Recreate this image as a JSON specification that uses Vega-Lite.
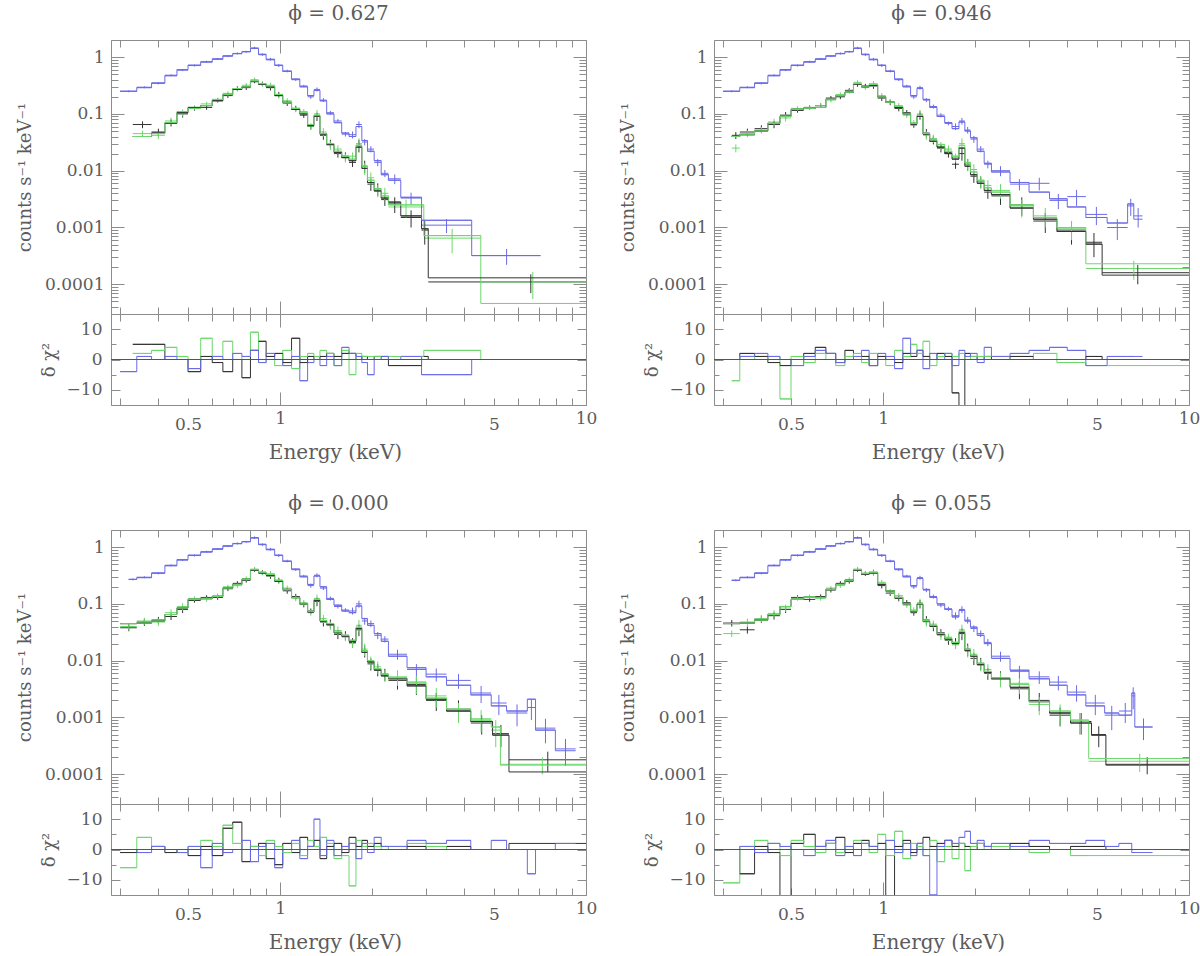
{
"$schema": "https://vega.github.io/schema/vega-lite/v6.json",
"padding": {"left": 16, "top": 4, "right": 5, "bottom": 5},
"background": "white",
"data": {"values": [
{"p":0,"s":"k","l":0.33,"h":0.38,"e":0.355,"m":0.04,"y":0.065,"d":0.056,"u":0.074,"r":5},
{"p":0,"s":"k","l":0.38,"h":0.42,"e":0.4,"m":0.046,"y":0.048,"d":0.041,"u":0.055,"r":5},
{"p":0,"s":"k","l":0.42,"h":0.46,"e":0.44,"m":0.068,"y":0.07,"d":0.06,"u":0.08,"r":0},
{"p":0,"s":"k","l":0.46,"h":0.5,"e":0.48,"m":0.105,"y":0.1,"d":0.086,"u":0.114,"r":0},
{"p":0,"s":"k","l":0.5,"h":0.55,"e":0.525,"m":0.13,"y":0.125,"d":0.114,"u":0.136,"r":-4},
{"p":0,"s":"k","l":0.55,"h":0.6,"e":0.575,"m":0.14,"y":0.13,"d":0.118,"u":0.142,"r":1},
{"p":0,"s":"k","l":0.6,"h":0.65,"e":0.625,"m":0.17,"y":0.175,"d":0.159,"u":0.191,"r":-1},
{"p":0,"s":"k","l":0.65,"h":0.7,"e":0.675,"m":0.22,"y":0.21,"d":0.191,"u":0.229,"r":-4},
{"p":0,"s":"k","l":0.7,"h":0.75,"e":0.725,"m":0.27,"y":0.28,"d":0.255,"u":0.305,"r":0},
{"p":0,"s":"k","l":0.75,"h":0.8,"e":0.775,"m":0.3,"y":0.29,"d":0.264,"u":0.316,"r":-6},
{"p":0,"s":"k","l":0.8,"h":0.85,"e":0.825,"m":0.37,"y":0.38,"d":0.346,"u":0.414,"r":3},
{"p":0,"s":"k","l":0.85,"h":0.9,"e":0.875,"m":0.33,"y":0.34,"d":0.31,"u":0.37,"r":6},
{"p":0,"s":"k","l":0.9,"h":0.96,"e":0.93,"m":0.3,"y":0.29,"d":0.258,"u":0.322,"r":1},
{"p":0,"s":"k","l":0.96,"h":1.02,"e":0.99,"m":0.21,"y":0.22,"d":0.196,"u":0.244,"r":2},
{"p":0,"s":"k","l":1.02,"h":1.09,"e":1.055,"m":0.16,"y":0.155,"d":0.138,"u":0.172,"r":-1},
{"p":0,"s":"k","l":1.09,"h":1.16,"e":1.125,"m":0.12,"y":0.125,"d":0.111,"u":0.139,"r":7},
{"p":0,"s":"k","l":1.16,"h":1.23,"e":1.195,"m":0.1,"y":0.095,"d":0.085,"u":0.105,"r":-1},
{"p":0,"s":"k","l":1.23,"h":1.29,"e":1.26,"m":0.062,"y":0.06,"d":0.053,"u":0.067,"r":1},
{"p":0,"s":"k","l":1.29,"h":1.35,"e":1.32,"m":0.092,"y":0.09,"d":0.075,"u":0.105,"r":0},
{"p":0,"s":"k","l":1.35,"h":1.42,"e":1.385,"m":0.044,"y":0.042,"d":0.035,"u":0.049,"r":1},
{"p":0,"s":"k","l":1.42,"h":1.5,"e":1.46,"m":0.029,"y":0.03,"d":0.025,"u":0.035,"r":2},
{"p":0,"s":"k","l":1.5,"h":1.59,"e":1.545,"m":0.021,"y":0.02,"d":0.017,"u":0.023,"r":1},
{"p":0,"s":"k","l":1.59,"h":1.68,"e":1.635,"m":0.017,"y":0.018,"d":0.015,"u":0.021,"r":2},
{"p":0,"s":"k","l":1.68,"h":1.77,"e":1.725,"m":0.015,"y":0.014,"d":0.0116,"u":0.0164,"r":2},
{"p":0,"s":"k","l":1.77,"h":1.85,"e":1.81,"m":0.026,"y":0.028,"d":0.021,"u":0.035,"r":0},
{"p":0,"s":"k","l":1.85,"h":1.93,"e":1.89,"m":0.011,"y":0.012,"d":0.009,"u":0.015,"r":1},
{"p":0,"s":"k","l":1.93,"h":2.03,"e":1.98,"m":0.0062,"y":0.0058,"d":0.0044,"u":0.0072,"r":0},
{"p":0,"s":"k","l":2.03,"h":2.14,"e":2.085,"m":0.0044,"y":0.0048,"d":0.0036,"u":0.006,"r":1},
{"p":0,"s":"k","l":2.14,"h":2.26,"e":2.2,"m":0.0033,"y":0.0031,"d":0.0024,"u":0.0038,"r":1},
{"p":0,"s":"k","l":2.26,"h":2.48,"e":2.37,"m":0.0028,"y":0.0026,"d":0.0018,"u":0.0034,"r":-2},
{"p":0,"s":"k","l":2.48,"h":2.9,"e":2.68,"m":0.0016,"y":0.0015,"d":0.001,"u":0.002,"r":-2},
{"p":0,"s":"k","l":2.9,"h":3.05,"e":2.97,"m":0.00095,"y":0.0009,"d":0.0005,"u":0.0013,"r":1},
{"p":0,"s":"k","l":3.05,"h":10,"e":6.6,"m":0.00013,"y":0.00011,"d":0.00007,"u":0.00015,"r":0},
{"p":0,"s":"g","l":0.33,"h":0.38,"e":0.355,"m":0.04,"y":0.045,"d":0.039,"u":0.051,"r":2},
{"p":0,"s":"g","l":0.38,"h":0.42,"e":0.4,"m":0.045,"y":0.042,"d":0.036,"u":0.048,"r":3},
{"p":0,"s":"g","l":0.42,"h":0.46,"e":0.44,"m":0.07,"y":0.075,"d":0.065,"u":0.086,"r":4},
{"p":0,"s":"g","l":0.46,"h":0.5,"e":0.48,"m":0.11,"y":0.105,"d":0.09,"u":0.12,"r":1},
{"p":0,"s":"g","l":0.5,"h":0.55,"e":0.525,"m":0.125,"y":0.13,"d":0.118,"u":0.142,"r":0},
{"p":0,"s":"g","l":0.55,"h":0.6,"e":0.575,"m":0.14,"y":0.15,"d":0.137,"u":0.164,"r":7},
{"p":0,"s":"g","l":0.6,"h":0.65,"e":0.625,"m":0.18,"y":0.175,"d":0.159,"u":0.191,"r":1},
{"p":0,"s":"g","l":0.65,"h":0.7,"e":0.675,"m":0.22,"y":0.23,"d":0.209,"u":0.251,"r":6},
{"p":0,"s":"g","l":0.7,"h":0.75,"e":0.725,"m":0.28,"y":0.27,"d":0.246,"u":0.294,"r":0},
{"p":0,"s":"g","l":0.75,"h":0.8,"e":0.775,"m":0.3,"y":0.32,"d":0.291,"u":0.349,"r":1},
{"p":0,"s":"g","l":0.8,"h":0.85,"e":0.825,"m":0.38,"y":0.4,"d":0.364,"u":0.436,"r":9},
{"p":0,"s":"g","l":0.85,"h":0.9,"e":0.875,"m":0.34,"y":0.33,"d":0.3,"u":0.36,"r":-1},
{"p":0,"s":"g","l":0.9,"h":0.96,"e":0.93,"m":0.31,"y":0.32,"d":0.285,"u":0.355,"r":0},
{"p":0,"s":"g","l":0.96,"h":1.02,"e":0.99,"m":0.22,"y":0.21,"d":0.187,"u":0.233,"r":-2},
{"p":0,"s":"g","l":1.02,"h":1.09,"e":1.055,"m":0.16,"y":0.17,"d":0.151,"u":0.189,"r":3},
{"p":0,"s":"g","l":1.09,"h":1.16,"e":1.125,"m":0.125,"y":0.12,"d":0.107,"u":0.133,"r":-3},
{"p":0,"s":"g","l":1.16,"h":1.23,"e":1.195,"m":0.105,"y":0.11,"d":0.098,"u":0.122,"r":1},
{"p":0,"s":"g","l":1.23,"h":1.29,"e":1.26,"m":0.065,"y":0.06,"d":0.053,"u":0.067,"r":2},
{"p":0,"s":"g","l":1.29,"h":1.35,"e":1.32,"m":0.095,"y":0.1,"d":0.083,"u":0.117,"r":1},
{"p":0,"s":"g","l":1.35,"h":1.42,"e":1.385,"m":0.045,"y":0.048,"d":0.04,"u":0.056,"r":3},
{"p":0,"s":"g","l":1.42,"h":1.5,"e":1.46,"m":0.03,"y":0.028,"d":0.023,"u":0.033,"r":2},
{"p":0,"s":"g","l":1.5,"h":1.59,"e":1.545,"m":0.022,"y":0.024,"d":0.02,"u":0.028,"r":-2},
{"p":0,"s":"g","l":1.59,"h":1.68,"e":1.635,"m":0.018,"y":0.017,"d":0.014,"u":0.02,"r":3},
{"p":0,"s":"g","l":1.68,"h":1.77,"e":1.725,"m":0.016,"y":0.018,"d":0.015,"u":0.021,"r":-5},
{"p":0,"s":"g","l":1.77,"h":1.85,"e":1.81,"m":0.028,"y":0.03,"d":0.023,"u":0.037,"r":2},
{"p":0,"s":"g","l":1.85,"h":1.93,"e":1.89,"m":0.012,"y":0.011,"d":0.0084,"u":0.0136,"r":1},
{"p":0,"s":"g","l":1.93,"h":2.03,"e":1.98,"m":0.0068,"y":0.0075,"d":0.0057,"u":0.0093,"r":1},
{"p":0,"s":"g","l":2.03,"h":2.14,"e":2.085,"m":0.0048,"y":0.0045,"d":0.0034,"u":0.0056,"r":1},
{"p":0,"s":"g","l":2.14,"h":2.26,"e":2.2,"m":0.0036,"y":0.004,"d":0.003,"u":0.005,"r":0},
{"p":0,"s":"g","l":2.26,"h":2.95,"e":2.58,"m":0.0025,"y":0.0023,"d":0.0015,"u":0.0031,"r":1},
{"p":0,"s":"g","l":2.95,"h":4.53,"e":3.65,"m":0.00072,"y":0.00065,"d":0.00035,"u":0.00095,"r":3},
{"p":0,"s":"g","l":4.53,"h":10,"e":6.7,"m":0.000046,"y":0.00011,"d":0.000055,"u":0.000165,"r":0},
{"p":0,"s":"b","l":0.3,"h":0.34,"e":0.32,"m":0.25,"y":0.25,"d":0.24,"u":0.26,"r":-4},
{"p":0,"s":"b","l":0.34,"h":0.38,"e":0.36,"m":0.29,"y":0.295,"d":0.283,"u":0.307,"r":1},
{"p":0,"s":"b","l":0.38,"h":0.42,"e":0.4,"m":0.35,"y":0.345,"d":0.331,"u":0.359,"r":0},
{"p":0,"s":"b","l":0.42,"h":0.46,"e":0.44,"m":0.47,"y":0.48,"d":0.461,"u":0.499,"r":1},
{"p":0,"s":"b","l":0.46,"h":0.5,"e":0.48,"m":0.6,"y":0.59,"d":0.566,"u":0.614,"r":0},
{"p":0,"s":"b","l":0.5,"h":0.55,"e":0.525,"m":0.72,"y":0.71,"d":0.682,"u":0.738,"r":-3},
{"p":0,"s":"b","l":0.55,"h":0.6,"e":0.575,"m":0.82,"y":0.83,"d":0.797,"u":0.863,"r":0},
{"p":0,"s":"b","l":0.6,"h":0.65,"e":0.625,"m":0.92,"y":0.93,"d":0.893,"u":0.967,"r":1},
{"p":0,"s":"b","l":0.65,"h":0.7,"e":0.675,"m":1.05,"y":1.04,"d":1.0,"u":1.08,"r":0},
{"p":0,"s":"b","l":0.7,"h":0.75,"e":0.725,"m":1.15,"y":1.16,"d":1.11,"u":1.21,"r":2},
{"p":0,"s":"b","l":0.75,"h":0.8,"e":0.775,"m":1.25,"y":1.24,"d":1.19,"u":1.29,"r":1},
{"p":0,"s":"b","l":0.8,"h":0.85,"e":0.825,"m":1.42,"y":1.45,"d":1.38,"u":1.52,"r":3},
{"p":0,"s":"b","l":0.85,"h":0.9,"e":0.875,"m":1.12,"y":1.1,"d":1.05,"u":1.16,"r":-1},
{"p":0,"s":"b","l":0.9,"h":0.96,"e":0.93,"m":0.9,"y":0.92,"d":0.87,"u":0.97,"r":2},
{"p":0,"s":"b","l":0.96,"h":1.02,"e":0.99,"m":0.72,"y":0.71,"d":0.67,"u":0.75,"r":0},
{"p":0,"s":"b","l":1.02,"h":1.09,"e":1.055,"m":0.56,"y":0.57,"d":0.54,"u":0.6,"r":-2},
{"p":0,"s":"b","l":1.09,"h":1.16,"e":1.125,"m":0.41,"y":0.4,"d":0.38,"u":0.42,"r":1},
{"p":0,"s":"b","l":1.16,"h":1.23,"e":1.195,"m":0.3,"y":0.31,"d":0.295,"u":0.325,"r":-7},
{"p":0,"s":"b","l":1.23,"h":1.29,"e":1.26,"m":0.21,"y":0.2,"d":0.184,"u":0.216,"r":-1},
{"p":0,"s":"b","l":1.29,"h":1.35,"e":1.32,"m":0.26,"y":0.27,"d":0.248,"u":0.292,"r":0},
{"p":0,"s":"b","l":1.35,"h":1.42,"e":1.385,"m":0.17,"y":0.175,"d":0.161,"u":0.189,"r":-2},
{"p":0,"s":"b","l":1.42,"h":1.5,"e":1.46,"m":0.1,"y":0.105,"d":0.097,"u":0.113,"r":1},
{"p":0,"s":"b","l":1.5,"h":1.59,"e":1.545,"m":0.07,"y":0.075,"d":0.069,"u":0.081,"r":-2},
{"p":0,"s":"b","l":1.59,"h":1.68,"e":1.635,"m":0.046,"y":0.044,"d":0.04,"u":0.048,"r":4},
{"p":0,"s":"b","l":1.68,"h":1.77,"e":1.725,"m":0.04,"y":0.043,"d":0.037,"u":0.049,"r":2},
{"p":0,"s":"b","l":1.77,"h":1.85,"e":1.81,"m":0.06,"y":0.065,"d":0.056,"u":0.074,"r":1},
{"p":0,"s":"b","l":1.85,"h":1.93,"e":1.89,"m":0.034,"y":0.032,"d":0.028,"u":0.036,"r":-1},
{"p":0,"s":"b","l":1.93,"h":2.03,"e":1.98,"m":0.022,"y":0.024,"d":0.021,"u":0.027,"r":-5},
{"p":0,"s":"b","l":2.03,"h":2.14,"e":2.085,"m":0.015,"y":0.014,"d":0.012,"u":0.016,"r":0},
{"p":0,"s":"b","l":2.14,"h":2.26,"e":2.2,"m":0.0085,"y":0.009,"d":0.0077,"u":0.0103,"r":1},
{"p":0,"s":"b","l":2.26,"h":2.48,"e":2.37,"m":0.0068,"y":0.0072,"d":0.0058,"u":0.0086,"r":0},
{"p":0,"s":"b","l":2.48,"h":2.9,"e":2.68,"m":0.0034,"y":0.0033,"d":0.0025,"u":0.0041,"r":1},
{"p":0,"s":"b","l":2.9,"h":4.23,"e":3.5,"m":0.00134,"y":0.0011,"d":0.0008,"u":0.0014,"r":-5},
{"p":0,"s":"b","l":4.23,"h":7.1,"e":5.5,"m":0.00032,"y":0.00032,"d":0.00022,"u":0.00042,"r":0},

{"p":1,"s":"k","l":0.32,"h":0.34,"e":0.33,"m":0.04,"y":0.042,"d":0.036,"u":0.048,"r":0},
{"p":1,"s":"k","l":0.34,"h":0.38,"e":0.36,"m":0.043,"y":0.048,"d":0.041,"u":0.055,"r":2},
{"p":1,"s":"k","l":0.38,"h":0.42,"e":0.4,"m":0.05,"y":0.055,"d":0.047,"u":0.063,"r":1},
{"p":1,"s":"k","l":0.42,"h":0.46,"e":0.44,"m":0.068,"y":0.065,"d":0.056,"u":0.074,"r":-1},
{"p":1,"s":"k","l":0.46,"h":0.5,"e":0.48,"m":0.09,"y":0.095,"d":0.082,"u":0.108,"r":-2},
{"p":1,"s":"k","l":0.5,"h":0.55,"e":0.525,"m":0.12,"y":0.115,"d":0.105,"u":0.125,"r":0},
{"p":1,"s":"k","l":0.55,"h":0.6,"e":0.575,"m":0.125,"y":0.13,"d":0.118,"u":0.142,"r":2},
{"p":1,"s":"k","l":0.6,"h":0.65,"e":0.625,"m":0.13,"y":0.14,"d":0.127,"u":0.153,"r":4},
{"p":1,"s":"k","l":0.65,"h":0.7,"e":0.675,"m":0.18,"y":0.19,"d":0.173,"u":0.207,"r":2},
{"p":1,"s":"k","l":0.7,"h":0.75,"e":0.725,"m":0.21,"y":0.2,"d":0.182,"u":0.218,"r":-1},
{"p":1,"s":"k","l":0.75,"h":0.8,"e":0.775,"m":0.24,"y":0.26,"d":0.237,"u":0.283,"r":3},
{"p":1,"s":"k","l":0.8,"h":0.85,"e":0.825,"m":0.33,"y":0.33,"d":0.3,"u":0.36,"r":0},
{"p":1,"s":"k","l":0.85,"h":0.9,"e":0.875,"m":0.3,"y":0.31,"d":0.282,"u":0.338,"r":1},
{"p":1,"s":"k","l":0.9,"h":0.96,"e":0.93,"m":0.32,"y":0.31,"d":0.276,"u":0.344,"r":-2},
{"p":1,"s":"k","l":0.96,"h":1.02,"e":0.99,"m":0.2,"y":0.19,"d":0.169,"u":0.211,"r":1},
{"p":1,"s":"k","l":1.02,"h":1.09,"e":1.055,"m":0.16,"y":0.16,"d":0.142,"u":0.178,"r":0},
{"p":1,"s":"k","l":1.09,"h":1.16,"e":1.125,"m":0.13,"y":0.125,"d":0.111,"u":0.139,"r":-1},
{"p":1,"s":"k","l":1.16,"h":1.23,"e":1.195,"m":0.1,"y":0.105,"d":0.093,"u":0.117,"r":2},
{"p":1,"s":"k","l":1.23,"h":1.29,"e":1.26,"m":0.066,"y":0.064,"d":0.057,"u":0.071,"r":1},
{"p":1,"s":"k","l":1.29,"h":1.35,"e":1.32,"m":0.09,"y":0.095,"d":0.079,"u":0.111,"r":3},
{"p":1,"s":"k","l":1.35,"h":1.42,"e":1.385,"m":0.044,"y":0.046,"d":0.038,"u":0.054,"r":1},
{"p":1,"s":"k","l":1.42,"h":1.5,"e":1.46,"m":0.033,"y":0.035,"d":0.029,"u":0.041,"r":0},
{"p":1,"s":"k","l":1.5,"h":1.59,"e":1.545,"m":0.026,"y":0.025,"d":0.021,"u":0.029,"r":2},
{"p":1,"s":"k","l":1.59,"h":1.68,"e":1.635,"m":0.02,"y":0.021,"d":0.017,"u":0.025,"r":1},
{"p":1,"s":"k","l":1.68,"h":1.77,"e":1.725,"m":0.016,"y":0.013,"d":0.0108,"u":0.0152,"r":-11},
{"p":1,"s":"k","l":1.77,"h":1.85,"e":1.81,"m":0.025,"y":0.02,"d":0.015,"u":0.025,"r":-20},
{"p":1,"s":"k","l":1.85,"h":1.93,"e":1.89,"m":0.012,"y":0.013,"d":0.0099,"u":0.0161,"r":2},
{"p":1,"s":"k","l":1.93,"h":2.03,"e":1.98,"m":0.0085,"y":0.008,"d":0.0061,"u":0.0099,"r":1},
{"p":1,"s":"k","l":2.03,"h":2.14,"e":2.085,"m":0.006,"y":0.0064,"d":0.0049,"u":0.0079,"r":0},
{"p":1,"s":"k","l":2.14,"h":2.26,"e":2.2,"m":0.0045,"y":0.0042,"d":0.0032,"u":0.0052,"r":1},
{"p":1,"s":"k","l":2.26,"h":2.6,"e":2.42,"m":0.0038,"y":0.0036,"d":0.0025,"u":0.0047,"r":0},
{"p":1,"s":"k","l":2.6,"h":3.1,"e":2.84,"m":0.0022,"y":0.0025,"d":0.0016,"u":0.0034,"r":1},
{"p":1,"s":"k","l":3.1,"h":3.7,"e":3.39,"m":0.0014,"y":0.0013,"d":0.0008,"u":0.0018,"r":0},
{"p":1,"s":"k","l":3.7,"h":4.6,"e":4.13,"m":0.00085,"y":0.0009,"d":0.0005,"u":0.0013,"r":0},
{"p":1,"s":"k","l":4.6,"h":5.2,"e":4.89,"m":0.00051,"y":0.00055,"d":0.0003,"u":0.0008,"r":1},
{"p":1,"s":"k","l":5.2,"h":10,"e":6.8,"m":0.000145,"y":0.00016,"d":0.0001,"u":0.00022,"r":0},
{"p":1,"s":"g","l":0.32,"h":0.34,"e":0.33,"m":0.04,"y":0.025,"d":0.021,"u":0.029,"r":-7},
{"p":1,"s":"g","l":0.34,"h":0.38,"e":0.36,"m":0.043,"y":0.045,"d":0.039,"u":0.051,"r":1},
{"p":1,"s":"g","l":0.38,"h":0.42,"e":0.4,"m":0.05,"y":0.052,"d":0.045,"u":0.059,"r":0},
{"p":1,"s":"g","l":0.42,"h":0.46,"e":0.44,"m":0.068,"y":0.072,"d":0.062,"u":0.082,"r":1},
{"p":1,"s":"g","l":0.46,"h":0.5,"e":0.48,"m":0.09,"y":0.085,"d":0.073,"u":0.097,"r":-13},
{"p":1,"s":"g","l":0.5,"h":0.55,"e":0.525,"m":0.12,"y":0.125,"d":0.114,"u":0.136,"r":1},
{"p":1,"s":"g","l":0.55,"h":0.6,"e":0.575,"m":0.125,"y":0.13,"d":0.118,"u":0.142,"r":-1},
{"p":1,"s":"g","l":0.6,"h":0.65,"e":0.625,"m":0.13,"y":0.14,"d":0.127,"u":0.153,"r":2},
{"p":1,"s":"g","l":0.65,"h":0.7,"e":0.675,"m":0.18,"y":0.175,"d":0.159,"u":0.191,"r":0},
{"p":1,"s":"g","l":0.7,"h":0.75,"e":0.725,"m":0.21,"y":0.22,"d":0.2,"u":0.24,"r":-2},
{"p":1,"s":"g","l":0.75,"h":0.8,"e":0.775,"m":0.24,"y":0.25,"d":0.228,"u":0.272,"r":1},
{"p":1,"s":"g","l":0.8,"h":0.85,"e":0.825,"m":0.34,"y":0.36,"d":0.328,"u":0.392,"r":2},
{"p":1,"s":"g","l":0.85,"h":0.9,"e":0.875,"m":0.3,"y":0.29,"d":0.264,"u":0.316,"r":-1},
{"p":1,"s":"g","l":0.9,"h":0.96,"e":0.93,"m":0.33,"y":0.34,"d":0.3,"u":0.38,"r":2},
{"p":1,"s":"g","l":0.96,"h":1.02,"e":0.99,"m":0.2,"y":0.21,"d":0.187,"u":0.233,"r":0},
{"p":1,"s":"g","l":1.02,"h":1.09,"e":1.055,"m":0.16,"y":0.165,"d":0.147,"u":0.183,"r":-2},
{"p":1,"s":"g","l":1.09,"h":1.16,"e":1.125,"m":0.135,"y":0.14,"d":0.125,"u":0.155,"r":3},
{"p":1,"s":"g","l":1.16,"h":1.23,"e":1.195,"m":0.1,"y":0.095,"d":0.085,"u":0.105,"r":1},
{"p":1,"s":"g","l":1.23,"h":1.29,"e":1.26,"m":0.068,"y":0.07,"d":0.062,"u":0.078,"r":5},
{"p":1,"s":"g","l":1.29,"h":1.35,"e":1.32,"m":0.094,"y":0.1,"d":0.083,"u":0.117,"r":2},
{"p":1,"s":"g","l":1.35,"h":1.42,"e":1.385,"m":0.045,"y":0.042,"d":0.035,"u":0.049,"r":6},
{"p":1,"s":"g","l":1.42,"h":1.5,"e":1.46,"m":0.035,"y":0.037,"d":0.031,"u":0.043,"r":-2},
{"p":1,"s":"g","l":1.5,"h":1.59,"e":1.545,"m":0.029,"y":0.027,"d":0.022,"u":0.032,"r":1},
{"p":1,"s":"g","l":1.59,"h":1.68,"e":1.635,"m":0.022,"y":0.024,"d":0.02,"u":0.028,"r":2},
{"p":1,"s":"g","l":1.68,"h":1.77,"e":1.725,"m":0.018,"y":0.017,"d":0.014,"u":0.02,"r":1},
{"p":1,"s":"g","l":1.77,"h":1.85,"e":1.81,"m":0.028,"y":0.03,"d":0.023,"u":0.037,"r":2},
{"p":1,"s":"g","l":1.85,"h":1.93,"e":1.89,"m":0.014,"y":0.013,"d":0.0099,"u":0.0161,"r":0},
{"p":1,"s":"g","l":1.93,"h":2.03,"e":1.98,"m":0.0095,"y":0.0105,"d":0.008,"u":0.013,"r":1},
{"p":1,"s":"g","l":2.03,"h":2.14,"e":2.085,"m":0.0068,"y":0.0065,"d":0.0049,"u":0.0081,"r":1},
{"p":1,"s":"g","l":2.14,"h":2.26,"e":2.2,"m":0.005,"y":0.0055,"d":0.0042,"u":0.0068,"r":1},
{"p":1,"s":"g","l":2.26,"h":2.6,"e":2.42,"m":0.0042,"y":0.0045,"d":0.0032,"u":0.0058,"r":1},
{"p":1,"s":"g","l":2.6,"h":3.1,"e":2.84,"m":0.0025,"y":0.0023,"d":0.0015,"u":0.0031,"r":0},
{"p":1,"s":"g","l":3.1,"h":3.7,"e":3.39,"m":0.0015,"y":0.0016,"d":0.001,"u":0.0022,"r":2},
{"p":1,"s":"g","l":3.7,"h":4.6,"e":4.13,"m":0.001,"y":0.00095,"d":0.0006,"u":0.0013,"r":-1},
{"p":1,"s":"g","l":4.6,"h":10,"e":6.6,"m":0.00023,"y":0.00019,"d":0.00012,"u":0.00026,"r":-2},
{"p":1,"s":"b","l":0.3,"h":0.34,"e":0.32,"m":0.25,"y":0.25,"d":0.24,"u":0.26,"r":0},
{"p":1,"s":"b","l":0.34,"h":0.38,"e":0.36,"m":0.29,"y":0.295,"d":0.283,"u":0.307,"r":1},
{"p":1,"s":"b","l":0.38,"h":0.42,"e":0.4,"m":0.35,"y":0.345,"d":0.331,"u":0.359,"r":2},
{"p":1,"s":"b","l":0.42,"h":0.46,"e":0.44,"m":0.47,"y":0.48,"d":0.461,"u":0.499,"r":1},
{"p":1,"s":"b","l":0.46,"h":0.5,"e":0.48,"m":0.6,"y":0.59,"d":0.566,"u":0.614,"r":0},
{"p":1,"s":"b","l":0.5,"h":0.55,"e":0.525,"m":0.72,"y":0.71,"d":0.682,"u":0.738,"r":-2},
{"p":1,"s":"b","l":0.55,"h":0.6,"e":0.575,"m":0.82,"y":0.83,"d":0.797,"u":0.863,"r":1},
{"p":1,"s":"b","l":0.6,"h":0.65,"e":0.625,"m":0.92,"y":0.93,"d":0.893,"u":0.967,"r":3},
{"p":1,"s":"b","l":0.65,"h":0.7,"e":0.675,"m":1.05,"y":1.04,"d":1.0,"u":1.08,"r":2},
{"p":1,"s":"b","l":0.7,"h":0.75,"e":0.725,"m":1.15,"y":1.16,"d":1.11,"u":1.21,"r":-1},
{"p":1,"s":"b","l":0.75,"h":0.8,"e":0.775,"m":1.25,"y":1.24,"d":1.19,"u":1.29,"r":0},
{"p":1,"s":"b","l":0.8,"h":0.85,"e":0.825,"m":1.42,"y":1.45,"d":1.38,"u":1.52,"r":1},
{"p":1,"s":"b","l":0.85,"h":0.9,"e":0.875,"m":1.12,"y":1.1,"d":1.05,"u":1.16,"r":3},
{"p":1,"s":"b","l":0.9,"h":0.96,"e":0.93,"m":0.9,"y":0.92,"d":0.87,"u":0.97,"r":-2},
{"p":1,"s":"b","l":0.96,"h":1.02,"e":0.99,"m":0.72,"y":0.71,"d":0.67,"u":0.75,"r":2},
{"p":1,"s":"b","l":1.02,"h":1.09,"e":1.055,"m":0.56,"y":0.57,"d":0.54,"u":0.6,"r":1},
{"p":1,"s":"b","l":1.09,"h":1.16,"e":1.125,"m":0.41,"y":0.4,"d":0.38,"u":0.42,"r":-3},
{"p":1,"s":"b","l":1.16,"h":1.23,"e":1.195,"m":0.3,"y":0.31,"d":0.295,"u":0.325,"r":7},
{"p":1,"s":"b","l":1.23,"h":1.29,"e":1.26,"m":0.21,"y":0.2,"d":0.184,"u":0.216,"r":2},
{"p":1,"s":"b","l":1.29,"h":1.35,"e":1.32,"m":0.28,"y":0.29,"d":0.267,"u":0.313,"r":3},
{"p":1,"s":"b","l":1.35,"h":1.42,"e":1.385,"m":0.18,"y":0.175,"d":0.161,"u":0.189,"r":-3},
{"p":1,"s":"b","l":1.42,"h":1.5,"e":1.46,"m":0.13,"y":0.135,"d":0.124,"u":0.146,"r":2},
{"p":1,"s":"b","l":1.5,"h":1.59,"e":1.545,"m":0.09,"y":0.095,"d":0.087,"u":0.103,"r":0},
{"p":1,"s":"b","l":1.59,"h":1.68,"e":1.635,"m":0.07,"y":0.068,"d":0.063,"u":0.073,"r":2},
{"p":1,"s":"b","l":1.68,"h":1.77,"e":1.725,"m":0.055,"y":0.06,"d":0.052,"u":0.068,"r":-2},
{"p":1,"s":"b","l":1.77,"h":1.85,"e":1.81,"m":0.072,"y":0.075,"d":0.065,"u":0.085,"r":3},
{"p":1,"s":"b","l":1.85,"h":1.93,"e":1.89,"m":0.05,"y":0.052,"d":0.045,"u":0.059,"r":1},
{"p":1,"s":"b","l":1.93,"h":2.03,"e":1.98,"m":0.038,"y":0.036,"d":0.031,"u":0.041,"r":2},
{"p":1,"s":"b","l":2.03,"h":2.14,"e":2.085,"m":0.022,"y":0.024,"d":0.021,"u":0.027,"r":-1},
{"p":1,"s":"b","l":2.14,"h":2.26,"e":2.2,"m":0.0135,"y":0.013,"d":0.011,"u":0.015,"r":4},
{"p":1,"s":"b","l":2.26,"h":2.6,"e":2.42,"m":0.0095,"y":0.01,"d":0.008,"u":0.012,"r":1},
{"p":1,"s":"b","l":2.6,"h":3.0,"e":2.79,"m":0.0062,"y":0.0058,"d":0.0045,"u":0.0071,"r":2},
{"p":1,"s":"b","l":3.0,"h":3.5,"e":3.24,"m":0.0042,"y":0.006,"d":0.0045,"u":0.0075,"r":3},
{"p":1,"s":"b","l":3.5,"h":4.0,"e":3.74,"m":0.0032,"y":0.003,"d":0.0021,"u":0.0039,"r":4},
{"p":1,"s":"b","l":4.0,"h":4.6,"e":4.29,"m":0.0023,"y":0.0035,"d":0.0024,"u":0.0046,"r":3},
{"p":1,"s":"b","l":4.6,"h":5.4,"e":4.98,"m":0.0015,"y":0.0017,"d":0.0011,"u":0.0023,"r":-2},
{"p":1,"s":"b","l":5.4,"h":6.3,"e":5.83,"m":0.0012,"y":0.001,"d":0.0006,"u":0.0014,"r":1},
{"p":1,"s":"b","l":6.3,"h":6.6,"e":6.45,"m":0.0026,"y":0.0024,"d":0.0016,"u":0.0032,"r":1},
{"p":1,"s":"b","l":6.6,"h":7.05,"e":6.82,"m":0.0014,"y":0.0016,"d":0.001,"u":0.0022,"r":1},

{"p":2,"s":"k","l":0.3,"h":0.34,"e":0.32,"m":0.045,"y":0.038,"d":0.033,"u":0.043,"r":-1},
{"p":2,"s":"k","l":0.34,"h":0.38,"e":0.36,"m":0.046,"y":0.048,"d":0.041,"u":0.055,"r":0},
{"p":2,"s":"k","l":0.38,"h":0.42,"e":0.4,"m":0.05,"y":0.052,"d":0.045,"u":0.059,"r":1},
{"p":2,"s":"k","l":0.42,"h":0.46,"e":0.44,"m":0.065,"y":0.06,"d":0.052,"u":0.068,"r":-1},
{"p":2,"s":"k","l":0.46,"h":0.5,"e":0.48,"m":0.085,"y":0.08,"d":0.069,"u":0.091,"r":0},
{"p":2,"s":"k","l":0.5,"h":0.55,"e":0.525,"m":0.12,"y":0.115,"d":0.105,"u":0.125,"r":-2},
{"p":2,"s":"k","l":0.55,"h":0.6,"e":0.575,"m":0.125,"y":0.13,"d":0.118,"u":0.142,"r":1},
{"p":2,"s":"k","l":0.6,"h":0.65,"e":0.625,"m":0.135,"y":0.13,"d":0.118,"u":0.142,"r":-2},
{"p":2,"s":"k","l":0.65,"h":0.7,"e":0.675,"m":0.19,"y":0.185,"d":0.168,"u":0.202,"r":7},
{"p":2,"s":"k","l":0.7,"h":0.75,"e":0.725,"m":0.22,"y":0.23,"d":0.209,"u":0.251,"r":9},
{"p":2,"s":"k","l":0.75,"h":0.8,"e":0.775,"m":0.27,"y":0.26,"d":0.237,"u":0.283,"r":-4},
{"p":2,"s":"k","l":0.8,"h":0.85,"e":0.825,"m":0.39,"y":0.4,"d":0.364,"u":0.436,"r":1},
{"p":2,"s":"k","l":0.85,"h":0.9,"e":0.875,"m":0.35,"y":0.36,"d":0.328,"u":0.392,"r":2},
{"p":2,"s":"k","l":0.9,"h":0.96,"e":0.93,"m":0.32,"y":0.31,"d":0.276,"u":0.344,"r":-3},
{"p":2,"s":"k","l":0.96,"h":1.02,"e":0.99,"m":0.25,"y":0.26,"d":0.231,"u":0.289,"r":-5},
{"p":2,"s":"k","l":1.02,"h":1.09,"e":1.055,"m":0.18,"y":0.17,"d":0.151,"u":0.189,"r":2},
{"p":2,"s":"k","l":1.09,"h":1.16,"e":1.125,"m":0.13,"y":0.135,"d":0.12,"u":0.15,"r":-1},
{"p":2,"s":"k","l":1.16,"h":1.23,"e":1.195,"m":0.1,"y":0.098,"d":0.087,"u":0.109,"r":4},
{"p":2,"s":"k","l":1.23,"h":1.29,"e":1.26,"m":0.072,"y":0.075,"d":0.067,"u":0.083,"r":1},
{"p":2,"s":"k","l":1.29,"h":1.35,"e":1.32,"m":0.115,"y":0.11,"d":0.091,"u":0.129,"r":3},
{"p":2,"s":"k","l":1.35,"h":1.42,"e":1.385,"m":0.05,"y":0.048,"d":0.04,"u":0.056,"r":-3},
{"p":2,"s":"k","l":1.42,"h":1.5,"e":1.46,"m":0.043,"y":0.045,"d":0.037,"u":0.053,"r":1},
{"p":2,"s":"k","l":1.5,"h":1.59,"e":1.545,"m":0.031,"y":0.029,"d":0.024,"u":0.034,"r":2},
{"p":2,"s":"k","l":1.59,"h":1.68,"e":1.635,"m":0.027,"y":0.028,"d":0.023,"u":0.033,"r":-1},
{"p":2,"s":"k","l":1.68,"h":1.77,"e":1.725,"m":0.022,"y":0.021,"d":0.017,"u":0.025,"r":4},
{"p":2,"s":"k","l":1.77,"h":1.85,"e":1.81,"m":0.037,"y":0.035,"d":0.027,"u":0.043,"r":1},
{"p":2,"s":"k","l":1.85,"h":1.93,"e":1.89,"m":0.014,"y":0.015,"d":0.0114,"u":0.0186,"r":3},
{"p":2,"s":"k","l":1.93,"h":2.03,"e":1.98,"m":0.0095,"y":0.0088,"d":0.0067,"u":0.0109,"r":1},
{"p":2,"s":"k","l":2.03,"h":2.14,"e":2.085,"m":0.0068,"y":0.007,"d":0.0053,"u":0.0087,"r":2},
{"p":2,"s":"k","l":2.14,"h":2.26,"e":2.2,"m":0.0054,"y":0.0058,"d":0.0044,"u":0.0072,"r":1},
{"p":2,"s":"k","l":2.26,"h":2.6,"e":2.42,"m":0.0048,"y":0.0045,"d":0.0031,"u":0.0059,"r":0},
{"p":2,"s":"k","l":2.6,"h":3.0,"e":2.79,"m":0.0036,"y":0.0038,"d":0.0025,"u":0.0051,"r":1},
{"p":2,"s":"k","l":3.0,"h":3.5,"e":3.24,"m":0.0021,"y":0.002,"d":0.0013,"u":0.0027,"r":0},
{"p":2,"s":"k","l":3.5,"h":4.2,"e":3.83,"m":0.0013,"y":0.0014,"d":0.0008,"u":0.002,"r":1},
{"p":2,"s":"k","l":4.2,"h":4.95,"e":4.56,"m":0.00085,"y":0.0008,"d":0.0005,"u":0.0011,"r":0},
{"p":2,"s":"k","l":4.95,"h":5.6,"e":5.27,"m":0.00049,"y":0.00052,"d":0.0003,"u":0.00074,"r":0},
{"p":2,"s":"k","l":5.6,"h":10,"e":7.5,"m":0.00011,"y":0.00018,"d":0.00011,"u":0.00025,"r":2},
{"p":2,"s":"g","l":0.3,"h":0.34,"e":0.32,"m":0.045,"y":0.04,"d":0.034,"u":0.046,"r":-6},
{"p":2,"s":"g","l":0.34,"h":0.38,"e":0.36,"m":0.046,"y":0.05,"d":0.043,"u":0.057,"r":4},
{"p":2,"s":"g","l":0.38,"h":0.42,"e":0.4,"m":0.05,"y":0.048,"d":0.041,"u":0.055,"r":1},
{"p":2,"s":"g","l":0.42,"h":0.46,"e":0.44,"m":0.065,"y":0.07,"d":0.06,"u":0.08,"r":0},
{"p":2,"s":"g","l":0.46,"h":0.5,"e":0.48,"m":0.085,"y":0.09,"d":0.077,"u":0.103,"r":-1},
{"p":2,"s":"g","l":0.5,"h":0.55,"e":0.525,"m":0.12,"y":0.125,"d":0.114,"u":0.136,"r":1},
{"p":2,"s":"g","l":0.55,"h":0.6,"e":0.575,"m":0.125,"y":0.12,"d":0.109,"u":0.131,"r":3},
{"p":2,"s":"g","l":0.6,"h":0.65,"e":0.625,"m":0.135,"y":0.14,"d":0.127,"u":0.153,"r":1},
{"p":2,"s":"g","l":0.65,"h":0.7,"e":0.675,"m":0.19,"y":0.2,"d":0.182,"u":0.218,"r":8},
{"p":2,"s":"g","l":0.7,"h":0.75,"e":0.725,"m":0.22,"y":0.21,"d":0.191,"u":0.229,"r":2},
{"p":2,"s":"g","l":0.75,"h":0.8,"e":0.775,"m":0.27,"y":0.28,"d":0.255,"u":0.305,"r":0},
{"p":2,"s":"g","l":0.8,"h":0.85,"e":0.825,"m":0.4,"y":0.41,"d":0.373,"u":0.447,"r":1},
{"p":2,"s":"g","l":0.85,"h":0.9,"e":0.875,"m":0.36,"y":0.35,"d":0.32,"u":0.38,"r":-2},
{"p":2,"s":"g","l":0.9,"h":0.96,"e":0.93,"m":0.33,"y":0.34,"d":0.3,"u":0.38,"r":3},
{"p":2,"s":"g","l":0.96,"h":1.02,"e":0.99,"m":0.26,"y":0.25,"d":0.223,"u":0.278,"r":1},
{"p":2,"s":"g","l":1.02,"h":1.09,"e":1.055,"m":0.18,"y":0.19,"d":0.169,"u":0.211,"r":-1},
{"p":2,"s":"g","l":1.09,"h":1.16,"e":1.125,"m":0.13,"y":0.125,"d":0.111,"u":0.139,"r":2},
{"p":2,"s":"g","l":1.16,"h":1.23,"e":1.195,"m":0.1,"y":0.105,"d":0.093,"u":0.117,"r":-2},
{"p":2,"s":"g","l":1.23,"h":1.29,"e":1.26,"m":0.074,"y":0.07,"d":0.062,"u":0.078,"r":3},
{"p":2,"s":"g","l":1.29,"h":1.35,"e":1.32,"m":0.12,"y":0.125,"d":0.104,"u":0.146,"r":1},
{"p":2,"s":"g","l":1.35,"h":1.42,"e":1.385,"m":0.051,"y":0.055,"d":0.046,"u":0.064,"r":4},
{"p":2,"s":"g","l":1.42,"h":1.5,"e":1.46,"m":0.045,"y":0.042,"d":0.035,"u":0.049,"r":2},
{"p":2,"s":"g","l":1.5,"h":1.59,"e":1.545,"m":0.032,"y":0.034,"d":0.028,"u":0.04,"r":-3},
{"p":2,"s":"g","l":1.59,"h":1.68,"e":1.635,"m":0.028,"y":0.026,"d":0.022,"u":0.03,"r":-2},
{"p":2,"s":"g","l":1.68,"h":1.77,"e":1.725,"m":0.023,"y":0.02,"d":0.017,"u":0.023,"r":-12},
{"p":2,"s":"g","l":1.77,"h":1.85,"e":1.81,"m":0.039,"y":0.042,"d":0.032,"u":0.052,"r":3},
{"p":2,"s":"g","l":1.85,"h":1.93,"e":1.89,"m":0.015,"y":0.016,"d":0.012,"u":0.02,"r":1},
{"p":2,"s":"g","l":1.93,"h":2.03,"e":1.98,"m":0.01,"y":0.0095,"d":0.0072,"u":0.0118,"r":2},
{"p":2,"s":"g","l":2.03,"h":2.14,"e":2.085,"m":0.0072,"y":0.0078,"d":0.0059,"u":0.0097,"r":1},
{"p":2,"s":"g","l":2.14,"h":2.26,"e":2.2,"m":0.0058,"y":0.0055,"d":0.0042,"u":0.0068,"r":0},
{"p":2,"s":"g","l":2.26,"h":2.6,"e":2.42,"m":0.005,"y":0.0052,"d":0.0036,"u":0.0068,"r":1},
{"p":2,"s":"g","l":2.6,"h":3.0,"e":2.79,"m":0.0042,"y":0.004,"d":0.0026,"u":0.0054,"r":2},
{"p":2,"s":"g","l":3.0,"h":3.5,"e":3.24,"m":0.0022,"y":0.0024,"d":0.0015,"u":0.0033,"r":1},
{"p":2,"s":"g","l":3.5,"h":4.2,"e":3.83,"m":0.0014,"y":0.0013,"d":0.0008,"u":0.0018,"r":0},
{"p":2,"s":"g","l":4.2,"h":4.9,"e":4.54,"m":0.0009,"y":0.00095,"d":0.00055,"u":0.00135,"r":0},
{"p":2,"s":"g","l":4.9,"h":5.25,"e":5.07,"m":0.00068,"y":0.0006,"d":0.0003,"u":0.0009,"r":0},
{"p":2,"s":"g","l":5.25,"h":10,"e":7.2,"m":0.000145,"y":0.00015,"d":0.0001,"u":0.0002,"r":0},
{"p":2,"s":"b","l":0.32,"h":0.34,"e":0.33,"m":0.27,"y":0.27,"d":0.259,"u":0.281,"r":0},
{"p":2,"s":"b","l":0.34,"h":0.38,"e":0.36,"m":0.29,"y":0.295,"d":0.283,"u":0.307,"r":-1},
{"p":2,"s":"b","l":0.38,"h":0.42,"e":0.4,"m":0.35,"y":0.345,"d":0.331,"u":0.359,"r":1},
{"p":2,"s":"b","l":0.42,"h":0.46,"e":0.44,"m":0.47,"y":0.48,"d":0.461,"u":0.499,"r":0},
{"p":2,"s":"b","l":0.46,"h":0.5,"e":0.48,"m":0.6,"y":0.59,"d":0.566,"u":0.614,"r":-1},
{"p":2,"s":"b","l":0.5,"h":0.55,"e":0.525,"m":0.72,"y":0.71,"d":0.682,"u":0.738,"r":1},
{"p":2,"s":"b","l":0.55,"h":0.6,"e":0.575,"m":0.82,"y":0.83,"d":0.797,"u":0.863,"r":-6},
{"p":2,"s":"b","l":0.6,"h":0.65,"e":0.625,"m":0.92,"y":0.93,"d":0.893,"u":0.967,"r":2},
{"p":2,"s":"b","l":0.65,"h":0.7,"e":0.675,"m":1.05,"y":1.04,"d":1.0,"u":1.08,"r":-1},
{"p":2,"s":"b","l":0.7,"h":0.75,"e":0.725,"m":1.15,"y":1.16,"d":1.11,"u":1.21,"r":0},
{"p":2,"s":"b","l":0.75,"h":0.8,"e":0.775,"m":1.25,"y":1.24,"d":1.19,"u":1.29,"r":3},
{"p":2,"s":"b","l":0.8,"h":0.85,"e":0.825,"m":1.45,"y":1.47,"d":1.4,"u":1.54,"r":-4},
{"p":2,"s":"b","l":0.85,"h":0.9,"e":0.875,"m":1.12,"y":1.1,"d":1.05,"u":1.16,"r":1},
{"p":2,"s":"b","l":0.9,"h":0.96,"e":0.93,"m":0.9,"y":0.92,"d":0.87,"u":0.97,"r":2},
{"p":2,"s":"b","l":0.96,"h":1.02,"e":0.99,"m":0.72,"y":0.71,"d":0.67,"u":0.75,"r":-6},
{"p":2,"s":"b","l":1.02,"h":1.09,"e":1.055,"m":0.56,"y":0.57,"d":0.54,"u":0.6,"r":0},
{"p":2,"s":"b","l":1.09,"h":1.16,"e":1.125,"m":0.41,"y":0.4,"d":0.38,"u":0.42,"r":3},
{"p":2,"s":"b","l":1.16,"h":1.23,"e":1.195,"m":0.3,"y":0.31,"d":0.295,"u":0.325,"r":-3},
{"p":2,"s":"b","l":1.23,"h":1.29,"e":1.26,"m":0.22,"y":0.21,"d":0.193,"u":0.227,"r":1},
{"p":2,"s":"b","l":1.29,"h":1.35,"e":1.32,"m":0.31,"y":0.32,"d":0.294,"u":0.346,"r":10},
{"p":2,"s":"b","l":1.35,"h":1.42,"e":1.385,"m":0.2,"y":0.19,"d":0.175,"u":0.205,"r":-2},
{"p":2,"s":"b","l":1.42,"h":1.5,"e":1.46,"m":0.12,"y":0.125,"d":0.115,"u":0.135,"r":3},
{"p":2,"s":"b","l":1.5,"h":1.59,"e":1.545,"m":0.095,"y":0.09,"d":0.083,"u":0.097,"r":-2},
{"p":2,"s":"b","l":1.59,"h":1.68,"e":1.635,"m":0.075,"y":0.078,"d":0.072,"u":0.084,"r":1},
{"p":2,"s":"b","l":1.68,"h":1.77,"e":1.725,"m":0.07,"y":0.075,"d":0.065,"u":0.086,"r":2},
{"p":2,"s":"b","l":1.77,"h":1.85,"e":1.81,"m":0.092,"y":0.1,"d":0.086,"u":0.114,"r":-3},
{"p":2,"s":"b","l":1.85,"h":1.93,"e":1.89,"m":0.055,"y":0.05,"d":0.043,"u":0.057,"r":2},
{"p":2,"s":"b","l":1.93,"h":2.03,"e":1.98,"m":0.042,"y":0.045,"d":0.039,"u":0.051,"r":-1},
{"p":2,"s":"b","l":2.03,"h":2.14,"e":2.085,"m":0.03,"y":0.028,"d":0.024,"u":0.032,"r":4},
{"p":2,"s":"b","l":2.14,"h":2.26,"e":2.2,"m":0.022,"y":0.024,"d":0.021,"u":0.027,"r":1},
{"p":2,"s":"b","l":2.26,"h":2.6,"e":2.42,"m":0.012,"y":0.013,"d":0.0104,"u":0.0156,"r":1},
{"p":2,"s":"b","l":2.6,"h":3.0,"e":2.79,"m":0.0075,"y":0.007,"d":0.0053,"u":0.0087,"r":3},
{"p":2,"s":"b","l":3.0,"h":3.5,"e":3.24,"m":0.0052,"y":0.0058,"d":0.0043,"u":0.0073,"r":2},
{"p":2,"s":"b","l":3.5,"h":4.2,"e":3.83,"m":0.0037,"y":0.0045,"d":0.0032,"u":0.0058,"r":3},
{"p":2,"s":"b","l":4.2,"h":4.9,"e":4.54,"m":0.0025,"y":0.0027,"d":0.0018,"u":0.0036,"r":0},
{"p":2,"s":"b","l":4.9,"h":5.5,"e":5.19,"m":0.0016,"y":0.0018,"d":0.0011,"u":0.0025,"r":3},
{"p":2,"s":"b","l":5.5,"h":6.43,"e":5.95,"m":0.0013,"y":0.0012,"d":0.0007,"u":0.0017,"r":0},
{"p":2,"s":"b","l":6.43,"h":6.84,"e":6.63,"m":0.0021,"y":0.0015,"d":0.0009,"u":0.0021,"r":-8},
{"p":2,"s":"b","l":6.84,"h":7.94,"e":7.37,"m":0.0006,"y":0.00065,"d":0.00035,"u":0.00095,"r":0},
{"p":2,"s":"b","l":7.94,"h":9.25,"e":8.57,"m":0.00026,"y":0.00028,"d":0.00014,"u":0.00042,"r":2},

{"p":3,"s":"k","l":0.3,"h":0.34,"e":0.32,"m":0.045,"y":0.046,"d":0.04,"u":0.052,"r":0},
{"p":3,"s":"k","l":0.34,"h":0.38,"e":0.36,"m":0.046,"y":0.035,"d":0.03,"u":0.04,"r":-8},
{"p":3,"s":"k","l":0.38,"h":0.42,"e":0.4,"m":0.052,"y":0.054,"d":0.046,"u":0.062,"r":1},
{"p":3,"s":"k","l":0.42,"h":0.46,"e":0.44,"m":0.065,"y":0.062,"d":0.053,"u":0.071,"r":-1},
{"p":3,"s":"k","l":0.46,"h":0.5,"e":0.48,"m":0.09,"y":0.08,"d":0.069,"u":0.091,"r":-20},
{"p":3,"s":"k","l":0.5,"h":0.55,"e":0.525,"m":0.12,"y":0.13,"d":0.118,"u":0.142,"r":2},
{"p":3,"s":"k","l":0.55,"h":0.6,"e":0.575,"m":0.13,"y":0.12,"d":0.109,"u":0.131,"r":5},
{"p":3,"s":"k","l":0.6,"h":0.65,"e":0.625,"m":0.13,"y":0.135,"d":0.123,"u":0.147,"r":1},
{"p":3,"s":"k","l":0.65,"h":0.7,"e":0.675,"m":0.18,"y":0.175,"d":0.159,"u":0.191,"r":2},
{"p":3,"s":"k","l":0.7,"h":0.75,"e":0.725,"m":0.22,"y":0.23,"d":0.209,"u":0.251,"r":4},
{"p":3,"s":"k","l":0.75,"h":0.8,"e":0.775,"m":0.26,"y":0.25,"d":0.228,"u":0.272,"r":-1},
{"p":3,"s":"k","l":0.8,"h":0.85,"e":0.825,"m":0.39,"y":0.4,"d":0.364,"u":0.436,"r":2},
{"p":3,"s":"k","l":0.85,"h":0.9,"e":0.875,"m":0.33,"y":0.34,"d":0.31,"u":0.37,"r":3},
{"p":3,"s":"k","l":0.9,"h":0.96,"e":0.93,"m":0.35,"y":0.36,"d":0.32,"u":0.4,"r":1},
{"p":3,"s":"k","l":0.96,"h":1.02,"e":0.99,"m":0.22,"y":0.21,"d":0.187,"u":0.233,"r":2},
{"p":3,"s":"k","l":1.02,"h":1.09,"e":1.055,"m":0.17,"y":0.155,"d":0.138,"u":0.172,"r":-20},
{"p":3,"s":"k","l":1.09,"h":1.16,"e":1.125,"m":0.13,"y":0.125,"d":0.111,"u":0.139,"r":1},
{"p":3,"s":"k","l":1.16,"h":1.23,"e":1.195,"m":0.1,"y":0.105,"d":0.093,"u":0.117,"r":3},
{"p":3,"s":"k","l":1.23,"h":1.29,"e":1.26,"m":0.073,"y":0.07,"d":0.062,"u":0.078,"r":-1},
{"p":3,"s":"k","l":1.29,"h":1.35,"e":1.32,"m":0.098,"y":0.1,"d":0.083,"u":0.117,"r":2},
{"p":3,"s":"k","l":1.35,"h":1.42,"e":1.385,"m":0.049,"y":0.052,"d":0.043,"u":0.061,"r":4},
{"p":3,"s":"k","l":1.42,"h":1.5,"e":1.46,"m":0.041,"y":0.04,"d":0.033,"u":0.047,"r":1},
{"p":3,"s":"k","l":1.5,"h":1.59,"e":1.545,"m":0.029,"y":0.031,"d":0.026,"u":0.036,"r":2},
{"p":3,"s":"k","l":1.59,"h":1.68,"e":1.635,"m":0.024,"y":0.023,"d":0.019,"u":0.027,"r":3},
{"p":3,"s":"k","l":1.68,"h":1.77,"e":1.725,"m":0.02,"y":0.021,"d":0.017,"u":0.025,"r":1},
{"p":3,"s":"k","l":1.77,"h":1.85,"e":1.81,"m":0.031,"y":0.03,"d":0.023,"u":0.037,"r":2},
{"p":3,"s":"k","l":1.85,"h":1.93,"e":1.89,"m":0.015,"y":0.016,"d":0.012,"u":0.02,"r":1},
{"p":3,"s":"k","l":1.93,"h":2.03,"e":1.98,"m":0.012,"y":0.011,"d":0.0084,"u":0.0136,"r":0},
{"p":3,"s":"k","l":2.03,"h":2.14,"e":2.085,"m":0.0085,"y":0.009,"d":0.0068,"u":0.0112,"r":2},
{"p":3,"s":"k","l":2.14,"h":2.26,"e":2.2,"m":0.0062,"y":0.006,"d":0.0046,"u":0.0074,"r":1},
{"p":3,"s":"k","l":2.26,"h":2.6,"e":2.42,"m":0.0048,"y":0.005,"d":0.0035,"u":0.0065,"r":0},
{"p":3,"s":"k","l":2.6,"h":3.0,"e":2.79,"m":0.0034,"y":0.0032,"d":0.0021,"u":0.0043,"r":2},
{"p":3,"s":"k","l":3.0,"h":3.5,"e":3.24,"m":0.0019,"y":0.002,"d":0.0013,"u":0.0027,"r":1},
{"p":3,"s":"k","l":3.5,"h":4.1,"e":3.79,"m":0.0012,"y":0.0011,"d":0.0007,"u":0.0015,"r":0},
{"p":3,"s":"k","l":4.1,"h":4.8,"e":4.44,"m":0.0008,"y":0.00085,"d":0.0005,"u":0.0012,"r":1},
{"p":3,"s":"k","l":4.8,"h":5.35,"e":5.07,"m":0.00049,"y":0.0005,"d":0.0003,"u":0.0007,"r":1},
{"p":3,"s":"k","l":5.35,"h":10,"e":7.3,"m":0.000145,"y":0.00015,"d":0.0001,"u":0.0002,"r":0},
{"p":3,"s":"g","l":0.3,"h":0.34,"e":0.32,"m":0.045,"y":0.03,"d":0.026,"u":0.034,"r":-11},
{"p":3,"s":"g","l":0.34,"h":0.38,"e":0.36,"m":0.046,"y":0.048,"d":0.041,"u":0.055,"r":1},
{"p":3,"s":"g","l":0.38,"h":0.42,"e":0.4,"m":0.052,"y":0.055,"d":0.047,"u":0.063,"r":3},
{"p":3,"s":"g","l":0.42,"h":0.46,"e":0.44,"m":0.065,"y":0.068,"d":0.058,"u":0.078,"r":2},
{"p":3,"s":"g","l":0.46,"h":0.5,"e":0.48,"m":0.09,"y":0.085,"d":0.073,"u":0.097,"r":-2},
{"p":3,"s":"g","l":0.5,"h":0.55,"e":0.525,"m":0.12,"y":0.125,"d":0.114,"u":0.136,"r":3},
{"p":3,"s":"g","l":0.55,"h":0.6,"e":0.575,"m":0.13,"y":0.135,"d":0.123,"u":0.147,"r":1},
{"p":3,"s":"g","l":0.6,"h":0.65,"e":0.625,"m":0.13,"y":0.125,"d":0.114,"u":0.136,"r":-1},
{"p":3,"s":"g","l":0.65,"h":0.7,"e":0.675,"m":0.18,"y":0.19,"d":0.173,"u":0.207,"r":2},
{"p":3,"s":"g","l":0.7,"h":0.75,"e":0.725,"m":0.22,"y":0.21,"d":0.191,"u":0.229,"r":-1},
{"p":3,"s":"g","l":0.75,"h":0.8,"e":0.775,"m":0.26,"y":0.27,"d":0.246,"u":0.294,"r":1},
{"p":3,"s":"g","l":0.8,"h":0.85,"e":0.825,"m":0.4,"y":0.41,"d":0.373,"u":0.447,"r":3},
{"p":3,"s":"g","l":0.85,"h":0.9,"e":0.875,"m":0.34,"y":0.35,"d":0.32,"u":0.38,"r":2},
{"p":3,"s":"g","l":0.9,"h":0.96,"e":0.93,"m":0.36,"y":0.35,"d":0.31,"u":0.39,"r":-1},
{"p":3,"s":"g","l":0.96,"h":1.02,"e":0.99,"m":0.23,"y":0.24,"d":0.214,"u":0.266,"r":5},
{"p":3,"s":"g","l":1.02,"h":1.09,"e":1.055,"m":0.17,"y":0.165,"d":0.147,"u":0.183,"r":-2},
{"p":3,"s":"g","l":1.09,"h":1.16,"e":1.125,"m":0.13,"y":0.14,"d":0.125,"u":0.155,"r":6},
{"p":3,"s":"g","l":1.16,"h":1.23,"e":1.195,"m":0.1,"y":0.095,"d":0.085,"u":0.105,"r":-3},
{"p":3,"s":"g","l":1.23,"h":1.29,"e":1.26,"m":0.075,"y":0.078,"d":0.069,"u":0.087,"r":2},
{"p":3,"s":"g","l":1.29,"h":1.35,"e":1.32,"m":0.1,"y":0.105,"d":0.087,"u":0.123,"r":1},
{"p":3,"s":"g","l":1.35,"h":1.42,"e":1.385,"m":0.05,"y":0.048,"d":0.04,"u":0.056,"r":-2},
{"p":3,"s":"g","l":1.42,"h":1.5,"e":1.46,"m":0.042,"y":0.044,"d":0.037,"u":0.051,"r":3},
{"p":3,"s":"g","l":1.5,"h":1.59,"e":1.545,"m":0.03,"y":0.028,"d":0.023,"u":0.033,"r":-4},
{"p":3,"s":"g","l":1.59,"h":1.68,"e":1.635,"m":0.025,"y":0.026,"d":0.022,"u":0.03,"r":1},
{"p":3,"s":"g","l":1.68,"h":1.77,"e":1.725,"m":0.021,"y":0.019,"d":0.016,"u":0.022,"r":-3},
{"p":3,"s":"g","l":1.77,"h":1.85,"e":1.81,"m":0.033,"y":0.035,"d":0.027,"u":0.043,"r":2},
{"p":3,"s":"g","l":1.85,"h":1.93,"e":1.89,"m":0.016,"y":0.015,"d":0.0114,"u":0.0186,"r":-7},
{"p":3,"s":"g","l":1.93,"h":2.03,"e":1.98,"m":0.0125,"y":0.013,"d":0.0099,"u":0.0161,"r":1},
{"p":3,"s":"g","l":2.03,"h":2.14,"e":2.085,"m":0.009,"y":0.0085,"d":0.0065,"u":0.0105,"r":2},
{"p":3,"s":"g","l":2.14,"h":2.26,"e":2.2,"m":0.0065,"y":0.007,"d":0.0053,"u":0.0087,"r":0},
{"p":3,"s":"g","l":2.26,"h":2.6,"e":2.42,"m":0.005,"y":0.0048,"d":0.0034,"u":0.0062,"r":1},
{"p":3,"s":"g","l":2.6,"h":3.0,"e":2.79,"m":0.0038,"y":0.004,"d":0.0026,"u":0.0054,"r":0},
{"p":3,"s":"g","l":3.0,"h":3.5,"e":3.24,"m":0.0019,"y":0.0017,"d":0.0011,"u":0.0023,"r":-1},
{"p":3,"s":"g","l":3.5,"h":4.1,"e":3.79,"m":0.0013,"y":0.0012,"d":0.0007,"u":0.0017,"r":0},
{"p":3,"s":"g","l":4.1,"h":4.7,"e":4.39,"m":0.0009,"y":0.00085,"d":0.0005,"u":0.0012,"r":-2},
{"p":3,"s":"g","l":4.7,"h":10,"e":6.9,"m":0.00019,"y":0.00017,"d":0.00011,"u":0.00023,"r":-2},
{"p":3,"s":"b","l":0.32,"h":0.34,"e":0.33,"m":0.26,"y":0.26,"d":0.25,"u":0.27,"r":0},
{"p":3,"s":"b","l":0.34,"h":0.38,"e":0.36,"m":0.29,"y":0.295,"d":0.283,"u":0.307,"r":1},
{"p":3,"s":"b","l":0.38,"h":0.42,"e":0.4,"m":0.35,"y":0.345,"d":0.331,"u":0.359,"r":-1},
{"p":3,"s":"b","l":0.42,"h":0.46,"e":0.44,"m":0.47,"y":0.48,"d":0.461,"u":0.499,"r":2},
{"p":3,"s":"b","l":0.46,"h":0.5,"e":0.48,"m":0.6,"y":0.59,"d":0.566,"u":0.614,"r":1},
{"p":3,"s":"b","l":0.5,"h":0.55,"e":0.525,"m":0.72,"y":0.71,"d":0.682,"u":0.738,"r":0},
{"p":3,"s":"b","l":0.55,"h":0.6,"e":0.575,"m":0.82,"y":0.83,"d":0.797,"u":0.863,"r":-2},
{"p":3,"s":"b","l":0.6,"h":0.65,"e":0.625,"m":0.92,"y":0.93,"d":0.893,"u":0.967,"r":1},
{"p":3,"s":"b","l":0.65,"h":0.7,"e":0.675,"m":1.05,"y":1.04,"d":1.0,"u":1.08,"r":3},
{"p":3,"s":"b","l":0.7,"h":0.75,"e":0.725,"m":1.15,"y":1.16,"d":1.11,"u":1.21,"r":-2},
{"p":3,"s":"b","l":0.75,"h":0.8,"e":0.775,"m":1.25,"y":1.24,"d":1.19,"u":1.29,"r":1},
{"p":3,"s":"b","l":0.8,"h":0.85,"e":0.825,"m":1.45,"y":1.47,"d":1.4,"u":1.54,"r":-2},
{"p":3,"s":"b","l":0.85,"h":0.9,"e":0.875,"m":1.12,"y":1.1,"d":1.05,"u":1.16,"r":2},
{"p":3,"s":"b","l":0.9,"h":0.96,"e":0.93,"m":0.9,"y":0.92,"d":0.87,"u":0.97,"r":1},
{"p":3,"s":"b","l":0.96,"h":1.02,"e":0.99,"m":0.72,"y":0.71,"d":0.67,"u":0.75,"r":0},
{"p":3,"s":"b","l":1.02,"h":1.09,"e":1.055,"m":0.56,"y":0.57,"d":0.54,"u":0.6,"r":3},
{"p":3,"s":"b","l":1.09,"h":1.16,"e":1.125,"m":0.41,"y":0.4,"d":0.38,"u":0.42,"r":-1},
{"p":3,"s":"b","l":1.16,"h":1.23,"e":1.195,"m":0.3,"y":0.31,"d":0.295,"u":0.325,"r":2},
{"p":3,"s":"b","l":1.23,"h":1.29,"e":1.26,"m":0.21,"y":0.2,"d":0.184,"u":0.216,"r":-2},
{"p":3,"s":"b","l":1.29,"h":1.35,"e":1.32,"m":0.28,"y":0.29,"d":0.267,"u":0.313,"r":2},
{"p":3,"s":"b","l":1.35,"h":1.42,"e":1.385,"m":0.18,"y":0.175,"d":0.161,"u":0.189,"r":-2},
{"p":3,"s":"b","l":1.42,"h":1.5,"e":1.46,"m":0.13,"y":0.135,"d":0.124,"u":0.146,"r":-15},
{"p":3,"s":"b","l":1.5,"h":1.59,"e":1.545,"m":0.1,"y":0.095,"d":0.087,"u":0.103,"r":1},
{"p":3,"s":"b","l":1.59,"h":1.68,"e":1.635,"m":0.08,"y":0.082,"d":0.075,"u":0.089,"r":3},
{"p":3,"s":"b","l":1.68,"h":1.77,"e":1.725,"m":0.059,"y":0.062,"d":0.053,"u":0.071,"r":2},
{"p":3,"s":"b","l":1.77,"h":1.85,"e":1.81,"m":0.077,"y":0.08,"d":0.069,"u":0.091,"r":4},
{"p":3,"s":"b","l":1.85,"h":1.93,"e":1.89,"m":0.05,"y":0.052,"d":0.045,"u":0.059,"r":6},
{"p":3,"s":"b","l":1.93,"h":2.03,"e":1.98,"m":0.039,"y":0.037,"d":0.032,"u":0.042,"r":2},
{"p":3,"s":"b","l":2.03,"h":2.14,"e":2.085,"m":0.028,"y":0.03,"d":0.026,"u":0.034,"r":3},
{"p":3,"s":"b","l":2.14,"h":2.26,"e":2.2,"m":0.02,"y":0.021,"d":0.018,"u":0.024,"r":1},
{"p":3,"s":"b","l":2.26,"h":2.6,"e":2.42,"m":0.011,"y":0.012,"d":0.0096,"u":0.0144,"r":2},
{"p":3,"s":"b","l":2.6,"h":3.0,"e":2.79,"m":0.0068,"y":0.0065,"d":0.0049,"u":0.0081,"r":1},
{"p":3,"s":"b","l":3.0,"h":3.5,"e":3.24,"m":0.0048,"y":0.0052,"d":0.0039,"u":0.0065,"r":3},
{"p":3,"s":"b","l":3.5,"h":4.0,"e":3.74,"m":0.0037,"y":0.0042,"d":0.003,"u":0.0054,"r":2},
{"p":3,"s":"b","l":4.0,"h":4.6,"e":4.29,"m":0.0025,"y":0.0028,"d":0.0019,"u":0.0037,"r":2},
{"p":3,"s":"b","l":4.6,"h":5.3,"e":4.94,"m":0.0016,"y":0.0018,"d":0.0011,"u":0.0025,"r":3},
{"p":3,"s":"b","l":5.3,"h":5.9,"e":5.59,"m":0.0012,"y":0.0011,"d":0.0006,"u":0.0016,"r":1},
{"p":3,"s":"b","l":5.9,"h":6.5,"e":6.19,"m":0.0011,"y":0.0013,"d":0.0008,"u":0.0018,"r":2},
{"p":3,"s":"b","l":6.5,"h":6.65,"e":6.57,"m":0.0027,"y":0.0024,"d":0.0014,"u":0.0034,"r":-1},
{"p":3,"s":"b","l":6.65,"h":7.6,"e":7.1,"m":0.00068,"y":0.00068,"d":0.0004,"u":0.00096,"r":-1}
]},
"columns": 2,
"spacing": {"row": 0, "column": 128},
"bounds": "flush",
"align": "each",
"concat": [
{"title": {"text": "ϕ = 0.627"}, "width": 475, "height": 274, "transform": [{"filter": "datum.p == 0"}],
 "layer": [
  {"mark": {"type": "rule", "clip": true}, "encoding": {
   "x": {"field": "l", "type": "quantitative", "scale": {"type": "log", "domain": [0.28, 10], "nice": false}, "axis": {"orient": "bottom", "values": [0.3,0.4,0.5,0.6,0.7,0.8,0.9,1,2,3,4,5,6,7,8,9,10], "labels": false, "title": null, "tickSize": {"condition": {"test": "datum.value == 1 || datum.value == 10", "value": -13}, "value": -7}}},
   "x2": {"field": "h"},
   "y": {"field": "y", "type": "quantitative", "scale": {"type": "log", "domain": [0.00003, 2], "nice": false}, "axis": {"orient": "left", "values": [0.00003,0.00004,0.00005,0.00006,0.00007,0.00008,0.00009,0.0001,0.0002,0.0003,0.0004,0.0005,0.0006,0.0007,0.0008,0.0009,0.001,0.002,0.003,0.004,0.005,0.006,0.007,0.008,0.009,0.01,0.02,0.03,0.04,0.05,0.06,0.07,0.08,0.09,0.1,0.2,0.3,0.4,0.5,0.6,0.7,0.8,0.9,1,2], "labelExpr": "indexof([0.0001,0.001,0.01,0.1,1], datum.value) >= 0 ? format(datum.value, '~g') : ''", "tickSize": {"condition": {"test": "indexof([0.0001,0.001,0.01,0.1,1], datum.value) >= 0", "value": -13}, "value": -7}, "labelPadding": 20, "title": "counts s⁻¹ keV⁻¹", "titlePadding": 10}},
   "color": {"field": "s", "type": "nominal", "scale": {"domain": ["k", "g", "b"], "range": ["#333333", "#6cd86c", "#6b6be8"]}, "legend": null}}},
  {"mark": {"type": "rule", "clip": true}, "encoding": {
   "x": {"field": "e", "type": "quantitative", "scale": {"type": "log", "domain": [0.28, 10], "nice": false}, "axis": {"orient": "top", "values": [0.3,0.4,0.5,0.6,0.7,0.8,0.9,1,2,3,4,5,6,7,8,9,10], "labels": false, "title": null, "tickSize": {"condition": {"test": "datum.value == 1 || datum.value == 10", "value": -13}, "value": -7}}},
   "y": {"field": "d", "type": "quantitative", "scale": {"type": "log", "domain": [0.00003, 2], "nice": false}, "axis": {"orient": "right", "values": [0.00003,0.00004,0.00005,0.00006,0.00007,0.00008,0.00009,0.0001,0.0002,0.0003,0.0004,0.0005,0.0006,0.0007,0.0008,0.0009,0.001,0.002,0.003,0.004,0.005,0.006,0.007,0.008,0.009,0.01,0.02,0.03,0.04,0.05,0.06,0.07,0.08,0.09,0.1,0.2,0.3,0.4,0.5,0.6,0.7,0.8,0.9,1,2], "labels": false, "title": null, "tickSize": {"condition": {"test": "indexof([0.0001,0.001,0.01,0.1,1], datum.value) >= 0", "value": -13}, "value": -7}}},
   "y2": {"field": "u"},
   "color": {"field": "s", "type": "nominal", "scale": {"domain": ["k", "g", "b"], "range": ["#333333", "#6cd86c", "#6b6be8"]}, "legend": null}}},
  {"mark": {"type": "line", "interpolate": "step-after", "clip": true}, "encoding": {
   "x": {"field": "l", "type": "quantitative", "scale": {"type": "log", "domain": [0.28, 10], "nice": false}, "axis": null},
   "y": {"field": "m", "type": "quantitative", "scale": {"type": "log", "domain": [0.00003, 2], "nice": false}, "axis": null},
   "color": {"field": "s", "type": "nominal", "scale": {"domain": ["k", "g", "b"], "range": ["#333333", "#6cd86c", "#6b6be8"]}, "legend": null}}},
  {"mark": {"type": "rule", "clip": true}, "encoding": {
   "x": {"field": "l", "type": "quantitative", "scale": {"type": "log", "domain": [0.28, 10], "nice": false}, "axis": null},
   "x2": {"field": "h"},
   "y": {"field": "m", "type": "quantitative", "scale": {"type": "log", "domain": [0.00003, 2], "nice": false}, "axis": null},
   "color": {"field": "s", "type": "nominal", "scale": {"domain": ["k", "g", "b"], "range": ["#333333", "#6cd86c", "#6b6be8"]}, "legend": null}}}
 ],
 "resolve": {"axis": {"x": "independent", "y": "independent"}}},
{"title": {"text": "ϕ = 0.946"}, "width": 475, "height": 274, "transform": [{"filter": "datum.p == 1"}],
 "layer": [
  {"mark": {"type": "rule", "clip": true}, "encoding": {
   "x": {"field": "l", "type": "quantitative", "scale": {"type": "log", "domain": [0.28, 10], "nice": false}, "axis": {"orient": "bottom", "values": [0.3,0.4,0.5,0.6,0.7,0.8,0.9,1,2,3,4,5,6,7,8,9,10], "labels": false, "title": null, "tickSize": {"condition": {"test": "datum.value == 1 || datum.value == 10", "value": -13}, "value": -7}}},
   "x2": {"field": "h"},
   "y": {"field": "y", "type": "quantitative", "scale": {"type": "log", "domain": [0.00003, 2], "nice": false}, "axis": {"orient": "left", "values": [0.00003,0.00004,0.00005,0.00006,0.00007,0.00008,0.00009,0.0001,0.0002,0.0003,0.0004,0.0005,0.0006,0.0007,0.0008,0.0009,0.001,0.002,0.003,0.004,0.005,0.006,0.007,0.008,0.009,0.01,0.02,0.03,0.04,0.05,0.06,0.07,0.08,0.09,0.1,0.2,0.3,0.4,0.5,0.6,0.7,0.8,0.9,1,2], "labelExpr": "indexof([0.0001,0.001,0.01,0.1,1], datum.value) >= 0 ? format(datum.value, '~g') : ''", "tickSize": {"condition": {"test": "indexof([0.0001,0.001,0.01,0.1,1], datum.value) >= 0", "value": -13}, "value": -7}, "labelPadding": 20, "title": "counts s⁻¹ keV⁻¹", "titlePadding": 10}},
   "color": {"field": "s", "type": "nominal", "scale": {"domain": ["k", "g", "b"], "range": ["#333333", "#6cd86c", "#6b6be8"]}, "legend": null}}},
  {"mark": {"type": "rule", "clip": true}, "encoding": {
   "x": {"field": "e", "type": "quantitative", "scale": {"type": "log", "domain": [0.28, 10], "nice": false}, "axis": {"orient": "top", "values": [0.3,0.4,0.5,0.6,0.7,0.8,0.9,1,2,3,4,5,6,7,8,9,10], "labels": false, "title": null, "tickSize": {"condition": {"test": "datum.value == 1 || datum.value == 10", "value": -13}, "value": -7}}},
   "y": {"field": "d", "type": "quantitative", "scale": {"type": "log", "domain": [0.00003, 2], "nice": false}, "axis": {"orient": "right", "values": [0.00003,0.00004,0.00005,0.00006,0.00007,0.00008,0.00009,0.0001,0.0002,0.0003,0.0004,0.0005,0.0006,0.0007,0.0008,0.0009,0.001,0.002,0.003,0.004,0.005,0.006,0.007,0.008,0.009,0.01,0.02,0.03,0.04,0.05,0.06,0.07,0.08,0.09,0.1,0.2,0.3,0.4,0.5,0.6,0.7,0.8,0.9,1,2], "labels": false, "title": null, "tickSize": {"condition": {"test": "indexof([0.0001,0.001,0.01,0.1,1], datum.value) >= 0", "value": -13}, "value": -7}}},
   "y2": {"field": "u"},
   "color": {"field": "s", "type": "nominal", "scale": {"domain": ["k", "g", "b"], "range": ["#333333", "#6cd86c", "#6b6be8"]}, "legend": null}}},
  {"mark": {"type": "line", "interpolate": "step-after", "clip": true}, "encoding": {
   "x": {"field": "l", "type": "quantitative", "scale": {"type": "log", "domain": [0.28, 10], "nice": false}, "axis": null},
   "y": {"field": "m", "type": "quantitative", "scale": {"type": "log", "domain": [0.00003, 2], "nice": false}, "axis": null},
   "color": {"field": "s", "type": "nominal", "scale": {"domain": ["k", "g", "b"], "range": ["#333333", "#6cd86c", "#6b6be8"]}, "legend": null}}},
  {"mark": {"type": "rule", "clip": true}, "encoding": {
   "x": {"field": "l", "type": "quantitative", "scale": {"type": "log", "domain": [0.28, 10], "nice": false}, "axis": null},
   "x2": {"field": "h"},
   "y": {"field": "m", "type": "quantitative", "scale": {"type": "log", "domain": [0.00003, 2], "nice": false}, "axis": null},
   "color": {"field": "s", "type": "nominal", "scale": {"domain": ["k", "g", "b"], "range": ["#333333", "#6cd86c", "#6b6be8"]}, "legend": null}}}
 ],
 "resolve": {"axis": {"x": "independent", "y": "independent"}}},
{"width": 475, "height": 91, "transform": [{"filter": "datum.p == 0"}],
 "layer": [
  {"mark": {"type": "line", "interpolate": "step-after", "clip": true}, "encoding": {
   "x": {"field": "l", "type": "quantitative", "scale": {"type": "log", "domain": [0.28, 10], "nice": false}, "axis": {"orient": "bottom", "values": [0.3,0.4,0.5,0.6,0.7,0.8,0.9,1,2,3,4,5,6,7,8,9,10], "labelExpr": "indexof([0.5,1,5,10], datum.value) >= 0 ? format(datum.value, '~g') : ''", "tickSize": {"condition": {"test": "datum.value == 1 || datum.value == 10", "value": -13}, "value": -7}, "labelPadding": 18, "title": "Energy (keV)", "titlePadding": 10, "titleX": 224}},
   "y": {"field": "r", "type": "quantitative", "scale": {"domain": [-15, 15], "nice": false}, "axis": {"orient": "left", "values": [-15,-10,-5,0,5,10,15], "labelExpr": "datum.value % 10 == 0 ? format(datum.value, 'd') : ''", "tickSize": {"condition": {"test": "datum.value % 10 == 0", "value": -9}, "value": -5}, "labelPadding": 18, "title": "δ χ²", "titlePadding": 8}},
   "color": {"field": "s", "type": "nominal", "scale": {"domain": ["k", "g", "b"], "range": ["#333333", "#6cd86c", "#6b6be8"]}, "legend": null}}},
  {"mark": {"type": "rule", "clip": true}, "encoding": {
   "x": {"field": "l", "type": "quantitative", "scale": {"type": "log", "domain": [0.28, 10], "nice": false}, "axis": {"orient": "top", "values": [0.3,0.4,0.5,0.6,0.7,0.8,0.9,1,2,3,4,5,6,7,8,9,10], "labels": false, "title": null, "tickSize": {"condition": {"test": "datum.value == 1 || datum.value == 10", "value": -13}, "value": -7}}},
   "x2": {"field": "h"},
   "y": {"field": "r", "type": "quantitative", "scale": {"domain": [-15, 15], "nice": false}, "axis": {"orient": "right", "values": [-15,-10,-5,0,5,10,15], "labels": false, "title": null, "tickSize": {"condition": {"test": "datum.value % 10 == 0", "value": -9}, "value": -5}}},
   "color": {"field": "s", "type": "nominal", "scale": {"domain": ["k", "g", "b"], "range": ["#333333", "#6cd86c", "#6b6be8"]}, "legend": null}}},
  {"mark": {"type": "rule", "color": "#555555"}, "encoding": {
   "y": {"datum": 0, "type": "quantitative", "scale": {"domain": [-15, 15], "nice": false}, "axis": null}}}
 ],
 "resolve": {"axis": {"x": "independent", "y": "independent"}}},
{"width": 475, "height": 91, "transform": [{"filter": "datum.p == 1"}],
 "layer": [
  {"mark": {"type": "line", "interpolate": "step-after", "clip": true}, "encoding": {
   "x": {"field": "l", "type": "quantitative", "scale": {"type": "log", "domain": [0.28, 10], "nice": false}, "axis": {"orient": "bottom", "values": [0.3,0.4,0.5,0.6,0.7,0.8,0.9,1,2,3,4,5,6,7,8,9,10], "labelExpr": "indexof([0.5,1,5,10], datum.value) >= 0 ? format(datum.value, '~g') : ''", "tickSize": {"condition": {"test": "datum.value == 1 || datum.value == 10", "value": -13}, "value": -7}, "labelPadding": 18, "title": "Energy (keV)", "titlePadding": 10, "titleX": 224}},
   "y": {"field": "r", "type": "quantitative", "scale": {"domain": [-15, 15], "nice": false}, "axis": {"orient": "left", "values": [-15,-10,-5,0,5,10,15], "labelExpr": "datum.value % 10 == 0 ? format(datum.value, 'd') : ''", "tickSize": {"condition": {"test": "datum.value % 10 == 0", "value": -9}, "value": -5}, "labelPadding": 18, "title": "δ χ²", "titlePadding": 8}},
   "color": {"field": "s", "type": "nominal", "scale": {"domain": ["k", "g", "b"], "range": ["#333333", "#6cd86c", "#6b6be8"]}, "legend": null}}},
  {"mark": {"type": "rule", "clip": true}, "encoding": {
   "x": {"field": "l", "type": "quantitative", "scale": {"type": "log", "domain": [0.28, 10], "nice": false}, "axis": {"orient": "top", "values": [0.3,0.4,0.5,0.6,0.7,0.8,0.9,1,2,3,4,5,6,7,8,9,10], "labels": false, "title": null, "tickSize": {"condition": {"test": "datum.value == 1 || datum.value == 10", "value": -13}, "value": -7}}},
   "x2": {"field": "h"},
   "y": {"field": "r", "type": "quantitative", "scale": {"domain": [-15, 15], "nice": false}, "axis": {"orient": "right", "values": [-15,-10,-5,0,5,10,15], "labels": false, "title": null, "tickSize": {"condition": {"test": "datum.value % 10 == 0", "value": -9}, "value": -5}}},
   "color": {"field": "s", "type": "nominal", "scale": {"domain": ["k", "g", "b"], "range": ["#333333", "#6cd86c", "#6b6be8"]}, "legend": null}}},
  {"mark": {"type": "rule", "color": "#555555"}, "encoding": {
   "y": {"datum": 0, "type": "quantitative", "scale": {"domain": [-15, 15], "nice": false}, "axis": null}}}
 ],
 "resolve": {"axis": {"x": "independent", "y": "independent"}}},
{"width": 475, "height": 125, "data": {"values": []}, "mark": {"type": "point", "opacity": 0}, "encoding": {}},
{"width": 475, "height": 125, "data": {"values": []}, "mark": {"type": "point", "opacity": 0}, "encoding": {}},
{"title": {"text": "ϕ = 0.000"}, "width": 475, "height": 274, "transform": [{"filter": "datum.p == 2"}],
 "layer": [
  {"mark": {"type": "rule", "clip": true}, "encoding": {
   "x": {"field": "l", "type": "quantitative", "scale": {"type": "log", "domain": [0.28, 10], "nice": false}, "axis": {"orient": "bottom", "values": [0.3,0.4,0.5,0.6,0.7,0.8,0.9,1,2,3,4,5,6,7,8,9,10], "labels": false, "title": null, "tickSize": {"condition": {"test": "datum.value == 1 || datum.value == 10", "value": -13}, "value": -7}}},
   "x2": {"field": "h"},
   "y": {"field": "y", "type": "quantitative", "scale": {"type": "log", "domain": [0.00003, 2], "nice": false}, "axis": {"orient": "left", "values": [0.00003,0.00004,0.00005,0.00006,0.00007,0.00008,0.00009,0.0001,0.0002,0.0003,0.0004,0.0005,0.0006,0.0007,0.0008,0.0009,0.001,0.002,0.003,0.004,0.005,0.006,0.007,0.008,0.009,0.01,0.02,0.03,0.04,0.05,0.06,0.07,0.08,0.09,0.1,0.2,0.3,0.4,0.5,0.6,0.7,0.8,0.9,1,2], "labelExpr": "indexof([0.0001,0.001,0.01,0.1,1], datum.value) >= 0 ? format(datum.value, '~g') : ''", "tickSize": {"condition": {"test": "indexof([0.0001,0.001,0.01,0.1,1], datum.value) >= 0", "value": -13}, "value": -7}, "labelPadding": 20, "title": "counts s⁻¹ keV⁻¹", "titlePadding": 10}},
   "color": {"field": "s", "type": "nominal", "scale": {"domain": ["k", "g", "b"], "range": ["#333333", "#6cd86c", "#6b6be8"]}, "legend": null}}},
  {"mark": {"type": "rule", "clip": true}, "encoding": {
   "x": {"field": "e", "type": "quantitative", "scale": {"type": "log", "domain": [0.28, 10], "nice": false}, "axis": {"orient": "top", "values": [0.3,0.4,0.5,0.6,0.7,0.8,0.9,1,2,3,4,5,6,7,8,9,10], "labels": false, "title": null, "tickSize": {"condition": {"test": "datum.value == 1 || datum.value == 10", "value": -13}, "value": -7}}},
   "y": {"field": "d", "type": "quantitative", "scale": {"type": "log", "domain": [0.00003, 2], "nice": false}, "axis": {"orient": "right", "values": [0.00003,0.00004,0.00005,0.00006,0.00007,0.00008,0.00009,0.0001,0.0002,0.0003,0.0004,0.0005,0.0006,0.0007,0.0008,0.0009,0.001,0.002,0.003,0.004,0.005,0.006,0.007,0.008,0.009,0.01,0.02,0.03,0.04,0.05,0.06,0.07,0.08,0.09,0.1,0.2,0.3,0.4,0.5,0.6,0.7,0.8,0.9,1,2], "labels": false, "title": null, "tickSize": {"condition": {"test": "indexof([0.0001,0.001,0.01,0.1,1], datum.value) >= 0", "value": -13}, "value": -7}}},
   "y2": {"field": "u"},
   "color": {"field": "s", "type": "nominal", "scale": {"domain": ["k", "g", "b"], "range": ["#333333", "#6cd86c", "#6b6be8"]}, "legend": null}}},
  {"mark": {"type": "line", "interpolate": "step-after", "clip": true}, "encoding": {
   "x": {"field": "l", "type": "quantitative", "scale": {"type": "log", "domain": [0.28, 10], "nice": false}, "axis": null},
   "y": {"field": "m", "type": "quantitative", "scale": {"type": "log", "domain": [0.00003, 2], "nice": false}, "axis": null},
   "color": {"field": "s", "type": "nominal", "scale": {"domain": ["k", "g", "b"], "range": ["#333333", "#6cd86c", "#6b6be8"]}, "legend": null}}},
  {"mark": {"type": "rule", "clip": true}, "encoding": {
   "x": {"field": "l", "type": "quantitative", "scale": {"type": "log", "domain": [0.28, 10], "nice": false}, "axis": null},
   "x2": {"field": "h"},
   "y": {"field": "m", "type": "quantitative", "scale": {"type": "log", "domain": [0.00003, 2], "nice": false}, "axis": null},
   "color": {"field": "s", "type": "nominal", "scale": {"domain": ["k", "g", "b"], "range": ["#333333", "#6cd86c", "#6b6be8"]}, "legend": null}}}
 ],
 "resolve": {"axis": {"x": "independent", "y": "independent"}}},
{"title": {"text": "ϕ = 0.055"}, "width": 475, "height": 274, "transform": [{"filter": "datum.p == 3"}],
 "layer": [
  {"mark": {"type": "rule", "clip": true}, "encoding": {
   "x": {"field": "l", "type": "quantitative", "scale": {"type": "log", "domain": [0.28, 10], "nice": false}, "axis": {"orient": "bottom", "values": [0.3,0.4,0.5,0.6,0.7,0.8,0.9,1,2,3,4,5,6,7,8,9,10], "labels": false, "title": null, "tickSize": {"condition": {"test": "datum.value == 1 || datum.value == 10", "value": -13}, "value": -7}}},
   "x2": {"field": "h"},
   "y": {"field": "y", "type": "quantitative", "scale": {"type": "log", "domain": [0.00003, 2], "nice": false}, "axis": {"orient": "left", "values": [0.00003,0.00004,0.00005,0.00006,0.00007,0.00008,0.00009,0.0001,0.0002,0.0003,0.0004,0.0005,0.0006,0.0007,0.0008,0.0009,0.001,0.002,0.003,0.004,0.005,0.006,0.007,0.008,0.009,0.01,0.02,0.03,0.04,0.05,0.06,0.07,0.08,0.09,0.1,0.2,0.3,0.4,0.5,0.6,0.7,0.8,0.9,1,2], "labelExpr": "indexof([0.0001,0.001,0.01,0.1,1], datum.value) >= 0 ? format(datum.value, '~g') : ''", "tickSize": {"condition": {"test": "indexof([0.0001,0.001,0.01,0.1,1], datum.value) >= 0", "value": -13}, "value": -7}, "labelPadding": 20, "title": "counts s⁻¹ keV⁻¹", "titlePadding": 10}},
   "color": {"field": "s", "type": "nominal", "scale": {"domain": ["k", "g", "b"], "range": ["#333333", "#6cd86c", "#6b6be8"]}, "legend": null}}},
  {"mark": {"type": "rule", "clip": true}, "encoding": {
   "x": {"field": "e", "type": "quantitative", "scale": {"type": "log", "domain": [0.28, 10], "nice": false}, "axis": {"orient": "top", "values": [0.3,0.4,0.5,0.6,0.7,0.8,0.9,1,2,3,4,5,6,7,8,9,10], "labels": false, "title": null, "tickSize": {"condition": {"test": "datum.value == 1 || datum.value == 10", "value": -13}, "value": -7}}},
   "y": {"field": "d", "type": "quantitative", "scale": {"type": "log", "domain": [0.00003, 2], "nice": false}, "axis": {"orient": "right", "values": [0.00003,0.00004,0.00005,0.00006,0.00007,0.00008,0.00009,0.0001,0.0002,0.0003,0.0004,0.0005,0.0006,0.0007,0.0008,0.0009,0.001,0.002,0.003,0.004,0.005,0.006,0.007,0.008,0.009,0.01,0.02,0.03,0.04,0.05,0.06,0.07,0.08,0.09,0.1,0.2,0.3,0.4,0.5,0.6,0.7,0.8,0.9,1,2], "labels": false, "title": null, "tickSize": {"condition": {"test": "indexof([0.0001,0.001,0.01,0.1,1], datum.value) >= 0", "value": -13}, "value": -7}}},
   "y2": {"field": "u"},
   "color": {"field": "s", "type": "nominal", "scale": {"domain": ["k", "g", "b"], "range": ["#333333", "#6cd86c", "#6b6be8"]}, "legend": null}}},
  {"mark": {"type": "line", "interpolate": "step-after", "clip": true}, "encoding": {
   "x": {"field": "l", "type": "quantitative", "scale": {"type": "log", "domain": [0.28, 10], "nice": false}, "axis": null},
   "y": {"field": "m", "type": "quantitative", "scale": {"type": "log", "domain": [0.00003, 2], "nice": false}, "axis": null},
   "color": {"field": "s", "type": "nominal", "scale": {"domain": ["k", "g", "b"], "range": ["#333333", "#6cd86c", "#6b6be8"]}, "legend": null}}},
  {"mark": {"type": "rule", "clip": true}, "encoding": {
   "x": {"field": "l", "type": "quantitative", "scale": {"type": "log", "domain": [0.28, 10], "nice": false}, "axis": null},
   "x2": {"field": "h"},
   "y": {"field": "m", "type": "quantitative", "scale": {"type": "log", "domain": [0.00003, 2], "nice": false}, "axis": null},
   "color": {"field": "s", "type": "nominal", "scale": {"domain": ["k", "g", "b"], "range": ["#333333", "#6cd86c", "#6b6be8"]}, "legend": null}}}
 ],
 "resolve": {"axis": {"x": "independent", "y": "independent"}}},
{"width": 475, "height": 91, "transform": [{"filter": "datum.p == 2"}],
 "layer": [
  {"mark": {"type": "line", "interpolate": "step-after", "clip": true}, "encoding": {
   "x": {"field": "l", "type": "quantitative", "scale": {"type": "log", "domain": [0.28, 10], "nice": false}, "axis": {"orient": "bottom", "values": [0.3,0.4,0.5,0.6,0.7,0.8,0.9,1,2,3,4,5,6,7,8,9,10], "labelExpr": "indexof([0.5,1,5,10], datum.value) >= 0 ? format(datum.value, '~g') : ''", "tickSize": {"condition": {"test": "datum.value == 1 || datum.value == 10", "value": -13}, "value": -7}, "labelPadding": 18, "title": "Energy (keV)", "titlePadding": 10, "titleX": 224}},
   "y": {"field": "r", "type": "quantitative", "scale": {"domain": [-15, 15], "nice": false}, "axis": {"orient": "left", "values": [-15,-10,-5,0,5,10,15], "labelExpr": "datum.value % 10 == 0 ? format(datum.value, 'd') : ''", "tickSize": {"condition": {"test": "datum.value % 10 == 0", "value": -9}, "value": -5}, "labelPadding": 18, "title": "δ χ²", "titlePadding": 8}},
   "color": {"field": "s", "type": "nominal", "scale": {"domain": ["k", "g", "b"], "range": ["#333333", "#6cd86c", "#6b6be8"]}, "legend": null}}},
  {"mark": {"type": "rule", "clip": true}, "encoding": {
   "x": {"field": "l", "type": "quantitative", "scale": {"type": "log", "domain": [0.28, 10], "nice": false}, "axis": {"orient": "top", "values": [0.3,0.4,0.5,0.6,0.7,0.8,0.9,1,2,3,4,5,6,7,8,9,10], "labels": false, "title": null, "tickSize": {"condition": {"test": "datum.value == 1 || datum.value == 10", "value": -13}, "value": -7}}},
   "x2": {"field": "h"},
   "y": {"field": "r", "type": "quantitative", "scale": {"domain": [-15, 15], "nice": false}, "axis": {"orient": "right", "values": [-15,-10,-5,0,5,10,15], "labels": false, "title": null, "tickSize": {"condition": {"test": "datum.value % 10 == 0", "value": -9}, "value": -5}}},
   "color": {"field": "s", "type": "nominal", "scale": {"domain": ["k", "g", "b"], "range": ["#333333", "#6cd86c", "#6b6be8"]}, "legend": null}}},
  {"mark": {"type": "rule", "color": "#555555"}, "encoding": {
   "y": {"datum": 0, "type": "quantitative", "scale": {"domain": [-15, 15], "nice": false}, "axis": null}}}
 ],
 "resolve": {"axis": {"x": "independent", "y": "independent"}}},
{"width": 475, "height": 91, "transform": [{"filter": "datum.p == 3"}],
 "layer": [
  {"mark": {"type": "line", "interpolate": "step-after", "clip": true}, "encoding": {
   "x": {"field": "l", "type": "quantitative", "scale": {"type": "log", "domain": [0.28, 10], "nice": false}, "axis": {"orient": "bottom", "values": [0.3,0.4,0.5,0.6,0.7,0.8,0.9,1,2,3,4,5,6,7,8,9,10], "labelExpr": "indexof([0.5,1,5,10], datum.value) >= 0 ? format(datum.value, '~g') : ''", "tickSize": {"condition": {"test": "datum.value == 1 || datum.value == 10", "value": -13}, "value": -7}, "labelPadding": 18, "title": "Energy (keV)", "titlePadding": 10, "titleX": 224}},
   "y": {"field": "r", "type": "quantitative", "scale": {"domain": [-15, 15], "nice": false}, "axis": {"orient": "left", "values": [-15,-10,-5,0,5,10,15], "labelExpr": "datum.value % 10 == 0 ? format(datum.value, 'd') : ''", "tickSize": {"condition": {"test": "datum.value % 10 == 0", "value": -9}, "value": -5}, "labelPadding": 18, "title": "δ χ²", "titlePadding": 8}},
   "color": {"field": "s", "type": "nominal", "scale": {"domain": ["k", "g", "b"], "range": ["#333333", "#6cd86c", "#6b6be8"]}, "legend": null}}},
  {"mark": {"type": "rule", "clip": true}, "encoding": {
   "x": {"field": "l", "type": "quantitative", "scale": {"type": "log", "domain": [0.28, 10], "nice": false}, "axis": {"orient": "top", "values": [0.3,0.4,0.5,0.6,0.7,0.8,0.9,1,2,3,4,5,6,7,8,9,10], "labels": false, "title": null, "tickSize": {"condition": {"test": "datum.value == 1 || datum.value == 10", "value": -13}, "value": -7}}},
   "x2": {"field": "h"},
   "y": {"field": "r", "type": "quantitative", "scale": {"domain": [-15, 15], "nice": false}, "axis": {"orient": "right", "values": [-15,-10,-5,0,5,10,15], "labels": false, "title": null, "tickSize": {"condition": {"test": "datum.value % 10 == 0", "value": -9}, "value": -5}}},
   "color": {"field": "s", "type": "nominal", "scale": {"domain": ["k", "g", "b"], "range": ["#333333", "#6cd86c", "#6b6be8"]}, "legend": null}}},
  {"mark": {"type": "rule", "color": "#555555"}, "encoding": {
   "y": {"datum": 0, "type": "quantitative", "scale": {"domain": [-15, 15], "nice": false}, "axis": null}}}
 ],
 "resolve": {"axis": {"x": "independent", "y": "independent"}}}
],
"config": {
 "view": {"stroke": null},
 "font": "DejaVu Serif",
 "axis": {"domainColor": "#8c8c8c", "tickColor": "#8c8c8c", "domainWidth": 1, "tickWidth": 1, "labelFont": "DejaVu Serif", "labelFontSize": 17, "labelColor": "#5c5c5c", "titleFont": "DejaVu Serif", "titleFontSize": 18, "titleFontWeight": "normal", "titleColor": "#5c5c5c", "grid": false, "labelFlush": false, "labelOverlap": false},
 "axisX": {"titleFontSize": 20},
 "title": {"font": "DejaVu Serif", "fontSize": 20, "fontWeight": "normal", "color": "#5c5c5c", "frame": "group", "anchor": "middle", "baseline": "alphabetic", "offset": 7, "dx": -10},
 "line": {"strokeWidth": 1},
 "rule": {"strokeWidth": 1}
}
}
